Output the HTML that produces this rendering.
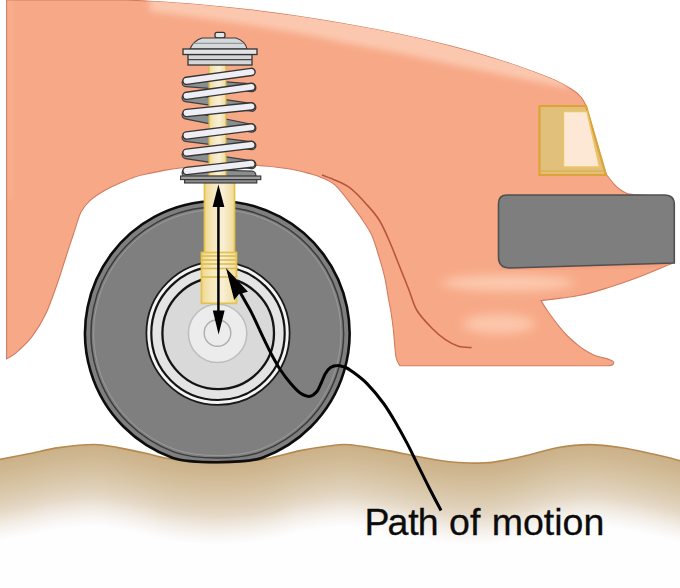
<!DOCTYPE html>
<html><head><meta charset="utf-8">
<style>
html,body{margin:0;padding:0;background:#fff;overflow:hidden;}
svg{display:block;}
text{font-family:"Liberation Sans",sans-serif;}
</style></head>
<body>
<svg width="680" height="588" viewBox="0 0 680 588">
<defs>
  <linearGradient id="rod" x1="0" y1="0" x2="1" y2="0">
    <stop offset="0" stop-color="#efd990"/>
    <stop offset="0.3" stop-color="#f5e8c0"/>
    <stop offset="0.6" stop-color="#f8efd6"/>
    <stop offset="1" stop-color="#f0dc98"/>
  </linearGradient>
  <filter id="bl4" x="-20%" y="-50%" width="140%" height="200%"><feGaussianBlur stdDeviation="4"/></filter>
  <filter id="bl5" x="-30%" y="-80%" width="160%" height="260%"><feGaussianBlur stdDeviation="5"/></filter>
  <filter id="bl3" x="-20%" y="-50%" width="140%" height="200%"><feGaussianBlur stdDeviation="3"/></filter>
  <filter id="bl2" x="-20%" y="-50%" width="140%" height="200%"><feGaussianBlur stdDeviation="2"/></filter>
  <clipPath id="bodyclip"><path id="bodyp" d="M6.6,0 L125,0 C129.2,0.4 137.5,0.5 150.0,1.2 C162.5,1.9 183.3,3.2 200.0,4.7 C216.7,6.2 233.3,7.9 250.0,9.9 C266.7,11.9 283.3,14.1 300.0,16.6 C316.7,19.1 333.3,21.8 350.0,24.7 C366.7,27.6 383.3,30.8 400.0,34.3 C416.7,37.8 433.3,41.6 450.0,45.9 C466.7,50.2 486.7,56.1 500.0,60.2 C513.3,64.3 520.8,67.1 530.0,70.4 C539.2,73.7 548.0,77.0 555.0,80.2 C562.0,83.4 567.7,86.7 572.0,89.5 C576.3,92.3 578.7,94.3 581.0,97.0 C583.3,99.7 585.2,104.1 586.0,105.5 C587.1,109.2 590.3,120.4 592.5,128.0 C594.7,135.6 596.8,143.3 599.0,151.0 C601.2,158.7 604.8,170.2 606.0,174.0 C607.3,175.6 611.5,181.2 613.8,183.8 C616.1,186.4 617.8,187.9 620.0,189.5 C622.2,191.1 624.8,192.7 627.0,193.5 C629.2,194.3 632.0,194.3 633.0,194.5 L660,196 L668,205 L673,263 C667.1,265.4 648.2,273.5 637.6,277.5 C627.0,281.5 619.2,284.2 609.4,287.2 C599.6,290.2 590.2,293.3 578.8,295.5 C567.4,297.7 547.3,299.8 541.0,300.6 C542.3,302.8 545.9,308.7 549.0,313.0 C552.1,317.3 556.2,322.9 559.4,326.8 C562.6,330.7 565.1,333.6 568.0,336.5 C570.9,339.4 574.2,342.1 577.0,344.4 C579.8,346.7 582.3,348.6 585.0,350.3 C587.7,352.0 590.7,353.6 593.2,354.7 C595.7,355.8 597.8,356.4 600.0,357.0 C602.2,357.6 604.7,358.1 606.5,358.6 C608.3,359.1 610.2,359.9 611.0,360.2 Q614.5,361.5 613.5,363.8 Q612,365.8 606,365.8 L400,365.8 C399.3,364.5 397.1,362.8 396.0,357.0 C394.9,351.2 394.3,338.5 393.5,331.0 C392.7,323.5 391.8,317.2 391.0,312.0 C390.2,306.8 389.7,305.6 388.7,300.0 C387.7,294.4 386.4,285.1 384.9,278.2 C383.4,271.2 381.7,265.4 379.5,258.3 C377.3,251.2 374.6,241.6 371.8,235.3 C369.0,229.0 366.4,225.8 362.9,220.5 C359.4,215.2 355.2,209.6 350.6,203.7 C346.0,197.8 340.4,189.8 335.3,185.3 C330.2,180.8 324.4,178.9 320.0,176.9 C315.6,174.9 313.3,174.6 309.0,173.4 C304.7,172.2 299.0,170.7 294.0,169.7 C289.0,168.7 283.8,168.1 279.0,167.5 C274.2,166.9 269.8,166.4 265.0,166.0 C260.2,165.6 255.8,165.2 250.0,165.0 C244.2,164.8 236.7,164.9 230.0,165.0 C223.3,165.1 216.3,165.2 210.0,165.5 C203.7,165.8 197.3,166.4 192.0,166.8 C186.7,167.2 182.7,167.6 178.0,168.2 C173.3,168.8 168.8,169.5 164.0,170.4 C159.2,171.3 153.9,172.3 149.0,173.4 C144.1,174.5 139.5,175.4 134.7,177.0 C129.9,178.6 125.0,180.8 120.0,183.0 C115.0,185.2 110.0,187.4 105.0,190.3 C100.0,193.2 94.0,197.0 90.0,200.6 C86.0,204.2 83.7,206.6 81.0,212.0 C78.3,217.4 76.6,224.7 73.8,233.0 C71.0,241.3 66.9,253.9 64.3,262.0 C61.7,270.1 61.1,272.9 58.0,281.5 C54.9,290.1 50.2,304.4 45.9,313.6 C41.6,322.8 37.1,330.0 32.0,336.6 C26.9,343.2 19.5,349.7 15.3,353.4 C11.1,357.1 8.1,357.8 6.6,358.7 Z"/></clipPath>
  </defs>

<!-- ground -->
<g>
<path d="M0.0,459.4 C5.0,458.4 20.2,455.5 30.0,453.5 C39.8,451.5 48.3,449.1 59.0,447.6 C69.7,446.1 84.2,444.5 94.0,444.5 C103.8,444.5 109.2,446.1 118.0,447.6 C126.8,449.1 139.2,451.8 147.0,453.5 C154.8,455.2 157.8,456.7 165.0,458.0 C172.2,459.3 181.2,460.7 190.0,461.5 C198.8,462.3 208.8,463.0 218.0,463.0 C227.2,463.0 236.3,462.3 245.0,461.5 C253.7,460.7 260.8,459.8 270.0,458.0 C279.2,456.2 290.2,452.6 300.0,450.6 C309.8,448.6 320.7,447.0 329.0,446.0 C337.3,445.0 340.2,443.9 350.0,444.7 C359.8,445.5 376.8,448.6 388.0,450.6 C399.2,452.6 407.2,454.7 417.0,456.5 C426.8,458.3 438.2,460.4 447.0,461.5 C455.8,462.6 462.5,462.9 470.0,463.0 C477.5,463.1 482.8,463.6 492.0,462.4 C501.2,461.2 514.2,458.3 525.0,455.9 C535.8,453.5 546.3,449.7 557.0,447.8 C567.7,445.9 578.2,444.6 589.0,444.6 C599.8,444.6 611.2,446.2 622.0,447.8 C632.8,449.4 644.3,452.2 654.0,454.3 C663.7,456.4 675.7,459.6 680.0,460.7 L680,700 L0,700 Z" fill="#cbb189"/>
<path transform="translate(0,1.5)" d="M0.0,459.4 C5.0,458.4 20.2,455.5 30.0,453.5 C39.8,451.5 48.3,449.1 59.0,447.6 C69.7,446.1 84.2,444.5 94.0,444.5 C103.8,444.5 109.2,446.1 118.0,447.6 C126.8,449.1 139.2,451.8 147.0,453.5 C154.8,455.2 157.8,456.7 165.0,458.0 C172.2,459.3 181.2,460.7 190.0,461.5 C198.8,462.3 208.8,463.0 218.0,463.0 C227.2,463.0 236.3,462.3 245.0,461.5 C253.7,460.7 260.8,459.8 270.0,458.0 C279.2,456.2 290.2,452.6 300.0,450.6 C309.8,448.6 320.7,447.0 329.0,446.0 C337.3,445.0 340.2,443.9 350.0,444.7 C359.8,445.5 376.8,448.6 388.0,450.6 C399.2,452.6 407.2,454.7 417.0,456.5 C426.8,458.3 438.2,460.4 447.0,461.5 C455.8,462.6 462.5,462.9 470.0,463.0 C477.5,463.1 482.8,463.6 492.0,462.4 C501.2,461.2 514.2,458.3 525.0,455.9 C535.8,453.5 546.3,449.7 557.0,447.8 C567.7,445.9 578.2,444.6 589.0,444.6 C599.8,444.6 611.2,446.2 622.0,447.8 C632.8,449.4 644.3,452.2 654.0,454.3 C663.7,456.4 675.7,459.6 680.0,460.7 L680,700 L0,700 Z" fill="#ccb28a"/>
<path transform="translate(0,3)" d="M0.0,459.4 C5.0,458.4 20.2,455.5 30.0,453.5 C39.8,451.5 48.3,449.1 59.0,447.6 C69.7,446.1 84.2,444.5 94.0,444.5 C103.8,444.5 109.2,446.1 118.0,447.6 C126.8,449.1 139.2,451.8 147.0,453.5 C154.8,455.2 157.8,456.7 165.0,458.0 C172.2,459.3 181.2,460.7 190.0,461.5 C198.8,462.3 208.8,463.0 218.0,463.0 C227.2,463.0 236.3,462.3 245.0,461.5 C253.7,460.7 260.8,459.8 270.0,458.0 C279.2,456.2 290.2,452.6 300.0,450.6 C309.8,448.6 320.7,447.0 329.0,446.0 C337.3,445.0 340.2,443.9 350.0,444.7 C359.8,445.5 376.8,448.6 388.0,450.6 C399.2,452.6 407.2,454.7 417.0,456.5 C426.8,458.3 438.2,460.4 447.0,461.5 C455.8,462.6 462.5,462.9 470.0,463.0 C477.5,463.1 482.8,463.6 492.0,462.4 C501.2,461.2 514.2,458.3 525.0,455.9 C535.8,453.5 546.3,449.7 557.0,447.8 C567.7,445.9 578.2,444.6 589.0,444.6 C599.8,444.6 611.2,446.2 622.0,447.8 C632.8,449.4 644.3,452.2 654.0,454.3 C663.7,456.4 675.7,459.6 680.0,460.7 L680,700 L0,700 Z" fill="#ccb38b"/>
<path transform="translate(0,4.5)" d="M0.0,459.4 C5.0,458.4 20.2,455.5 30.0,453.5 C39.8,451.5 48.3,449.1 59.0,447.6 C69.7,446.1 84.2,444.5 94.0,444.5 C103.8,444.5 109.2,446.1 118.0,447.6 C126.8,449.1 139.2,451.8 147.0,453.5 C154.8,455.2 157.8,456.7 165.0,458.0 C172.2,459.3 181.2,460.7 190.0,461.5 C198.8,462.3 208.8,463.0 218.0,463.0 C227.2,463.0 236.3,462.3 245.0,461.5 C253.7,460.7 260.8,459.8 270.0,458.0 C279.2,456.2 290.2,452.6 300.0,450.6 C309.8,448.6 320.7,447.0 329.0,446.0 C337.3,445.0 340.2,443.9 350.0,444.7 C359.8,445.5 376.8,448.6 388.0,450.6 C399.2,452.6 407.2,454.7 417.0,456.5 C426.8,458.3 438.2,460.4 447.0,461.5 C455.8,462.6 462.5,462.9 470.0,463.0 C477.5,463.1 482.8,463.6 492.0,462.4 C501.2,461.2 514.2,458.3 525.0,455.9 C535.8,453.5 546.3,449.7 557.0,447.8 C567.7,445.9 578.2,444.6 589.0,444.6 C599.8,444.6 611.2,446.2 622.0,447.8 C632.8,449.4 644.3,452.2 654.0,454.3 C663.7,456.4 675.7,459.6 680.0,460.7 L680,700 L0,700 Z" fill="#cdb48d"/>
<path transform="translate(0,6)" d="M0.0,459.4 C5.0,458.4 20.2,455.5 30.0,453.5 C39.8,451.5 48.3,449.1 59.0,447.6 C69.7,446.1 84.2,444.5 94.0,444.5 C103.8,444.5 109.2,446.1 118.0,447.6 C126.8,449.1 139.2,451.8 147.0,453.5 C154.8,455.2 157.8,456.7 165.0,458.0 C172.2,459.3 181.2,460.7 190.0,461.5 C198.8,462.3 208.8,463.0 218.0,463.0 C227.2,463.0 236.3,462.3 245.0,461.5 C253.7,460.7 260.8,459.8 270.0,458.0 C279.2,456.2 290.2,452.6 300.0,450.6 C309.8,448.6 320.7,447.0 329.0,446.0 C337.3,445.0 340.2,443.9 350.0,444.7 C359.8,445.5 376.8,448.6 388.0,450.6 C399.2,452.6 407.2,454.7 417.0,456.5 C426.8,458.3 438.2,460.4 447.0,461.5 C455.8,462.6 462.5,462.9 470.0,463.0 C477.5,463.1 482.8,463.6 492.0,462.4 C501.2,461.2 514.2,458.3 525.0,455.9 C535.8,453.5 546.3,449.7 557.0,447.8 C567.7,445.9 578.2,444.6 589.0,444.6 C599.8,444.6 611.2,446.2 622.0,447.8 C632.8,449.4 644.3,452.2 654.0,454.3 C663.7,456.4 675.7,459.6 680.0,460.7 L680,700 L0,700 Z" fill="#cdb58e"/>
<path transform="translate(0,7.5)" d="M0.0,459.4 C5.0,458.4 20.2,455.5 30.0,453.5 C39.8,451.5 48.3,449.1 59.0,447.6 C69.7,446.1 84.2,444.5 94.0,444.5 C103.8,444.5 109.2,446.1 118.0,447.6 C126.8,449.1 139.2,451.8 147.0,453.5 C154.8,455.2 157.8,456.7 165.0,458.0 C172.2,459.3 181.2,460.7 190.0,461.5 C198.8,462.3 208.8,463.0 218.0,463.0 C227.2,463.0 236.3,462.3 245.0,461.5 C253.7,460.7 260.8,459.8 270.0,458.0 C279.2,456.2 290.2,452.6 300.0,450.6 C309.8,448.6 320.7,447.0 329.0,446.0 C337.3,445.0 340.2,443.9 350.0,444.7 C359.8,445.5 376.8,448.6 388.0,450.6 C399.2,452.6 407.2,454.7 417.0,456.5 C426.8,458.3 438.2,460.4 447.0,461.5 C455.8,462.6 462.5,462.9 470.0,463.0 C477.5,463.1 482.8,463.6 492.0,462.4 C501.2,461.2 514.2,458.3 525.0,455.9 C535.8,453.5 546.3,449.7 557.0,447.8 C567.7,445.9 578.2,444.6 589.0,444.6 C599.8,444.6 611.2,446.2 622.0,447.8 C632.8,449.4 644.3,452.2 654.0,454.3 C663.7,456.4 675.7,459.6 680.0,460.7 L680,700 L0,700 Z" fill="#ceb68f"/>
<path transform="translate(0,9)" d="M0.0,459.4 C5.0,458.4 20.2,455.5 30.0,453.5 C39.8,451.5 48.3,449.1 59.0,447.6 C69.7,446.1 84.2,444.5 94.0,444.5 C103.8,444.5 109.2,446.1 118.0,447.6 C126.8,449.1 139.2,451.8 147.0,453.5 C154.8,455.2 157.8,456.7 165.0,458.0 C172.2,459.3 181.2,460.7 190.0,461.5 C198.8,462.3 208.8,463.0 218.0,463.0 C227.2,463.0 236.3,462.3 245.0,461.5 C253.7,460.7 260.8,459.8 270.0,458.0 C279.2,456.2 290.2,452.6 300.0,450.6 C309.8,448.6 320.7,447.0 329.0,446.0 C337.3,445.0 340.2,443.9 350.0,444.7 C359.8,445.5 376.8,448.6 388.0,450.6 C399.2,452.6 407.2,454.7 417.0,456.5 C426.8,458.3 438.2,460.4 447.0,461.5 C455.8,462.6 462.5,462.9 470.0,463.0 C477.5,463.1 482.8,463.6 492.0,462.4 C501.2,461.2 514.2,458.3 525.0,455.9 C535.8,453.5 546.3,449.7 557.0,447.8 C567.7,445.9 578.2,444.6 589.0,444.6 C599.8,444.6 611.2,446.2 622.0,447.8 C632.8,449.4 644.3,452.2 654.0,454.3 C663.7,456.4 675.7,459.6 680.0,460.7 L680,700 L0,700 Z" fill="#cfb690"/>
<path transform="translate(0,10.5)" d="M0.0,459.4 C5.0,458.4 20.2,455.5 30.0,453.5 C39.8,451.5 48.3,449.1 59.0,447.6 C69.7,446.1 84.2,444.5 94.0,444.5 C103.8,444.5 109.2,446.1 118.0,447.6 C126.8,449.1 139.2,451.8 147.0,453.5 C154.8,455.2 157.8,456.7 165.0,458.0 C172.2,459.3 181.2,460.7 190.0,461.5 C198.8,462.3 208.8,463.0 218.0,463.0 C227.2,463.0 236.3,462.3 245.0,461.5 C253.7,460.7 260.8,459.8 270.0,458.0 C279.2,456.2 290.2,452.6 300.0,450.6 C309.8,448.6 320.7,447.0 329.0,446.0 C337.3,445.0 340.2,443.9 350.0,444.7 C359.8,445.5 376.8,448.6 388.0,450.6 C399.2,452.6 407.2,454.7 417.0,456.5 C426.8,458.3 438.2,460.4 447.0,461.5 C455.8,462.6 462.5,462.9 470.0,463.0 C477.5,463.1 482.8,463.6 492.0,462.4 C501.2,461.2 514.2,458.3 525.0,455.9 C535.8,453.5 546.3,449.7 557.0,447.8 C567.7,445.9 578.2,444.6 589.0,444.6 C599.8,444.6 611.2,446.2 622.0,447.8 C632.8,449.4 644.3,452.2 654.0,454.3 C663.7,456.4 675.7,459.6 680.0,460.7 L680,700 L0,700 Z" fill="#cfb792"/>
<path transform="translate(0,12)" d="M0.0,459.4 C5.0,458.4 20.2,455.5 30.0,453.5 C39.8,451.5 48.3,449.1 59.0,447.6 C69.7,446.1 84.2,444.5 94.0,444.5 C103.8,444.5 109.2,446.1 118.0,447.6 C126.8,449.1 139.2,451.8 147.0,453.5 C154.8,455.2 157.8,456.7 165.0,458.0 C172.2,459.3 181.2,460.7 190.0,461.5 C198.8,462.3 208.8,463.0 218.0,463.0 C227.2,463.0 236.3,462.3 245.0,461.5 C253.7,460.7 260.8,459.8 270.0,458.0 C279.2,456.2 290.2,452.6 300.0,450.6 C309.8,448.6 320.7,447.0 329.0,446.0 C337.3,445.0 340.2,443.9 350.0,444.7 C359.8,445.5 376.8,448.6 388.0,450.6 C399.2,452.6 407.2,454.7 417.0,456.5 C426.8,458.3 438.2,460.4 447.0,461.5 C455.8,462.6 462.5,462.9 470.0,463.0 C477.5,463.1 482.8,463.6 492.0,462.4 C501.2,461.2 514.2,458.3 525.0,455.9 C535.8,453.5 546.3,449.7 557.0,447.8 C567.7,445.9 578.2,444.6 589.0,444.6 C599.8,444.6 611.2,446.2 622.0,447.8 C632.8,449.4 644.3,452.2 654.0,454.3 C663.7,456.4 675.7,459.6 680.0,460.7 L680,700 L0,700 Z" fill="#d0b893"/>
<path transform="translate(0,13.5)" d="M0.0,459.4 C5.0,458.4 20.2,455.5 30.0,453.5 C39.8,451.5 48.3,449.1 59.0,447.6 C69.7,446.1 84.2,444.5 94.0,444.5 C103.8,444.5 109.2,446.1 118.0,447.6 C126.8,449.1 139.2,451.8 147.0,453.5 C154.8,455.2 157.8,456.7 165.0,458.0 C172.2,459.3 181.2,460.7 190.0,461.5 C198.8,462.3 208.8,463.0 218.0,463.0 C227.2,463.0 236.3,462.3 245.0,461.5 C253.7,460.7 260.8,459.8 270.0,458.0 C279.2,456.2 290.2,452.6 300.0,450.6 C309.8,448.6 320.7,447.0 329.0,446.0 C337.3,445.0 340.2,443.9 350.0,444.7 C359.8,445.5 376.8,448.6 388.0,450.6 C399.2,452.6 407.2,454.7 417.0,456.5 C426.8,458.3 438.2,460.4 447.0,461.5 C455.8,462.6 462.5,462.9 470.0,463.0 C477.5,463.1 482.8,463.6 492.0,462.4 C501.2,461.2 514.2,458.3 525.0,455.9 C535.8,453.5 546.3,449.7 557.0,447.8 C567.7,445.9 578.2,444.6 589.0,444.6 C599.8,444.6 611.2,446.2 622.0,447.8 C632.8,449.4 644.3,452.2 654.0,454.3 C663.7,456.4 675.7,459.6 680.0,460.7 L680,700 L0,700 Z" fill="#d1ba95"/>
<path transform="translate(0,15)" d="M0.0,459.4 C5.0,458.4 20.2,455.5 30.0,453.5 C39.8,451.5 48.3,449.1 59.0,447.6 C69.7,446.1 84.2,444.5 94.0,444.5 C103.8,444.5 109.2,446.1 118.0,447.6 C126.8,449.1 139.2,451.8 147.0,453.5 C154.8,455.2 157.8,456.7 165.0,458.0 C172.2,459.3 181.2,460.7 190.0,461.5 C198.8,462.3 208.8,463.0 218.0,463.0 C227.2,463.0 236.3,462.3 245.0,461.5 C253.7,460.7 260.8,459.8 270.0,458.0 C279.2,456.2 290.2,452.6 300.0,450.6 C309.8,448.6 320.7,447.0 329.0,446.0 C337.3,445.0 340.2,443.9 350.0,444.7 C359.8,445.5 376.8,448.6 388.0,450.6 C399.2,452.6 407.2,454.7 417.0,456.5 C426.8,458.3 438.2,460.4 447.0,461.5 C455.8,462.6 462.5,462.9 470.0,463.0 C477.5,463.1 482.8,463.6 492.0,462.4 C501.2,461.2 514.2,458.3 525.0,455.9 C535.8,453.5 546.3,449.7 557.0,447.8 C567.7,445.9 578.2,444.6 589.0,444.6 C599.8,444.6 611.2,446.2 622.0,447.8 C632.8,449.4 644.3,452.2 654.0,454.3 C663.7,456.4 675.7,459.6 680.0,460.7 L680,700 L0,700 Z" fill="#d1bb96"/>
<path transform="translate(0,16.5)" d="M0.0,459.4 C5.0,458.4 20.2,455.5 30.0,453.5 C39.8,451.5 48.3,449.1 59.0,447.6 C69.7,446.1 84.2,444.5 94.0,444.5 C103.8,444.5 109.2,446.1 118.0,447.6 C126.8,449.1 139.2,451.8 147.0,453.5 C154.8,455.2 157.8,456.7 165.0,458.0 C172.2,459.3 181.2,460.7 190.0,461.5 C198.8,462.3 208.8,463.0 218.0,463.0 C227.2,463.0 236.3,462.3 245.0,461.5 C253.7,460.7 260.8,459.8 270.0,458.0 C279.2,456.2 290.2,452.6 300.0,450.6 C309.8,448.6 320.7,447.0 329.0,446.0 C337.3,445.0 340.2,443.9 350.0,444.7 C359.8,445.5 376.8,448.6 388.0,450.6 C399.2,452.6 407.2,454.7 417.0,456.5 C426.8,458.3 438.2,460.4 447.0,461.5 C455.8,462.6 462.5,462.9 470.0,463.0 C477.5,463.1 482.8,463.6 492.0,462.4 C501.2,461.2 514.2,458.3 525.0,455.9 C535.8,453.5 546.3,449.7 557.0,447.8 C567.7,445.9 578.2,444.6 589.0,444.6 C599.8,444.6 611.2,446.2 622.0,447.8 C632.8,449.4 644.3,452.2 654.0,454.3 C663.7,456.4 675.7,459.6 680.0,460.7 L680,700 L0,700 Z" fill="#d2bc98"/>
<path transform="translate(0,18)" d="M0.0,459.4 C5.0,458.4 20.2,455.5 30.0,453.5 C39.8,451.5 48.3,449.1 59.0,447.6 C69.7,446.1 84.2,444.5 94.0,444.5 C103.8,444.5 109.2,446.1 118.0,447.6 C126.8,449.1 139.2,451.8 147.0,453.5 C154.8,455.2 157.8,456.7 165.0,458.0 C172.2,459.3 181.2,460.7 190.0,461.5 C198.8,462.3 208.8,463.0 218.0,463.0 C227.2,463.0 236.3,462.3 245.0,461.5 C253.7,460.7 260.8,459.8 270.0,458.0 C279.2,456.2 290.2,452.6 300.0,450.6 C309.8,448.6 320.7,447.0 329.0,446.0 C337.3,445.0 340.2,443.9 350.0,444.7 C359.8,445.5 376.8,448.6 388.0,450.6 C399.2,452.6 407.2,454.7 417.0,456.5 C426.8,458.3 438.2,460.4 447.0,461.5 C455.8,462.6 462.5,462.9 470.0,463.0 C477.5,463.1 482.8,463.6 492.0,462.4 C501.2,461.2 514.2,458.3 525.0,455.9 C535.8,453.5 546.3,449.7 557.0,447.8 C567.7,445.9 578.2,444.6 589.0,444.6 C599.8,444.6 611.2,446.2 622.0,447.8 C632.8,449.4 644.3,452.2 654.0,454.3 C663.7,456.4 675.7,459.6 680.0,460.7 L680,700 L0,700 Z" fill="#d3bd9a"/>
<path transform="translate(0,19.5)" d="M0.0,459.4 C5.0,458.4 20.2,455.5 30.0,453.5 C39.8,451.5 48.3,449.1 59.0,447.6 C69.7,446.1 84.2,444.5 94.0,444.5 C103.8,444.5 109.2,446.1 118.0,447.6 C126.8,449.1 139.2,451.8 147.0,453.5 C154.8,455.2 157.8,456.7 165.0,458.0 C172.2,459.3 181.2,460.7 190.0,461.5 C198.8,462.3 208.8,463.0 218.0,463.0 C227.2,463.0 236.3,462.3 245.0,461.5 C253.7,460.7 260.8,459.8 270.0,458.0 C279.2,456.2 290.2,452.6 300.0,450.6 C309.8,448.6 320.7,447.0 329.0,446.0 C337.3,445.0 340.2,443.9 350.0,444.7 C359.8,445.5 376.8,448.6 388.0,450.6 C399.2,452.6 407.2,454.7 417.0,456.5 C426.8,458.3 438.2,460.4 447.0,461.5 C455.8,462.6 462.5,462.9 470.0,463.0 C477.5,463.1 482.8,463.6 492.0,462.4 C501.2,461.2 514.2,458.3 525.0,455.9 C535.8,453.5 546.3,449.7 557.0,447.8 C567.7,445.9 578.2,444.6 589.0,444.6 C599.8,444.6 611.2,446.2 622.0,447.8 C632.8,449.4 644.3,452.2 654.0,454.3 C663.7,456.4 675.7,459.6 680.0,460.7 L680,700 L0,700 Z" fill="#d3be9b"/>
<path transform="translate(0,21)" d="M0.0,459.4 C5.0,458.4 20.2,455.5 30.0,453.5 C39.8,451.5 48.3,449.1 59.0,447.6 C69.7,446.1 84.2,444.5 94.0,444.5 C103.8,444.5 109.2,446.1 118.0,447.6 C126.8,449.1 139.2,451.8 147.0,453.5 C154.8,455.2 157.8,456.7 165.0,458.0 C172.2,459.3 181.2,460.7 190.0,461.5 C198.8,462.3 208.8,463.0 218.0,463.0 C227.2,463.0 236.3,462.3 245.0,461.5 C253.7,460.7 260.8,459.8 270.0,458.0 C279.2,456.2 290.2,452.6 300.0,450.6 C309.8,448.6 320.7,447.0 329.0,446.0 C337.3,445.0 340.2,443.9 350.0,444.7 C359.8,445.5 376.8,448.6 388.0,450.6 C399.2,452.6 407.2,454.7 417.0,456.5 C426.8,458.3 438.2,460.4 447.0,461.5 C455.8,462.6 462.5,462.9 470.0,463.0 C477.5,463.1 482.8,463.6 492.0,462.4 C501.2,461.2 514.2,458.3 525.0,455.9 C535.8,453.5 546.3,449.7 557.0,447.8 C567.7,445.9 578.2,444.6 589.0,444.6 C599.8,444.6 611.2,446.2 622.0,447.8 C632.8,449.4 644.3,452.2 654.0,454.3 C663.7,456.4 675.7,459.6 680.0,460.7 L680,700 L0,700 Z" fill="#d4bf9d"/>
<path transform="translate(0,22.5)" d="M0.0,459.4 C5.0,458.4 20.2,455.5 30.0,453.5 C39.8,451.5 48.3,449.1 59.0,447.6 C69.7,446.1 84.2,444.5 94.0,444.5 C103.8,444.5 109.2,446.1 118.0,447.6 C126.8,449.1 139.2,451.8 147.0,453.5 C154.8,455.2 157.8,456.7 165.0,458.0 C172.2,459.3 181.2,460.7 190.0,461.5 C198.8,462.3 208.8,463.0 218.0,463.0 C227.2,463.0 236.3,462.3 245.0,461.5 C253.7,460.7 260.8,459.8 270.0,458.0 C279.2,456.2 290.2,452.6 300.0,450.6 C309.8,448.6 320.7,447.0 329.0,446.0 C337.3,445.0 340.2,443.9 350.0,444.7 C359.8,445.5 376.8,448.6 388.0,450.6 C399.2,452.6 407.2,454.7 417.0,456.5 C426.8,458.3 438.2,460.4 447.0,461.5 C455.8,462.6 462.5,462.9 470.0,463.0 C477.5,463.1 482.8,463.6 492.0,462.4 C501.2,461.2 514.2,458.3 525.0,455.9 C535.8,453.5 546.3,449.7 557.0,447.8 C567.7,445.9 578.2,444.6 589.0,444.6 C599.8,444.6 611.2,446.2 622.0,447.8 C632.8,449.4 644.3,452.2 654.0,454.3 C663.7,456.4 675.7,459.6 680.0,460.7 L680,700 L0,700 Z" fill="#d5c09e"/>
<path transform="translate(0,24)" d="M0.0,459.4 C5.0,458.4 20.2,455.5 30.0,453.5 C39.8,451.5 48.3,449.1 59.0,447.6 C69.7,446.1 84.2,444.5 94.0,444.5 C103.8,444.5 109.2,446.1 118.0,447.6 C126.8,449.1 139.2,451.8 147.0,453.5 C154.8,455.2 157.8,456.7 165.0,458.0 C172.2,459.3 181.2,460.7 190.0,461.5 C198.8,462.3 208.8,463.0 218.0,463.0 C227.2,463.0 236.3,462.3 245.0,461.5 C253.7,460.7 260.8,459.8 270.0,458.0 C279.2,456.2 290.2,452.6 300.0,450.6 C309.8,448.6 320.7,447.0 329.0,446.0 C337.3,445.0 340.2,443.9 350.0,444.7 C359.8,445.5 376.8,448.6 388.0,450.6 C399.2,452.6 407.2,454.7 417.0,456.5 C426.8,458.3 438.2,460.4 447.0,461.5 C455.8,462.6 462.5,462.9 470.0,463.0 C477.5,463.1 482.8,463.6 492.0,462.4 C501.2,461.2 514.2,458.3 525.0,455.9 C535.8,453.5 546.3,449.7 557.0,447.8 C567.7,445.9 578.2,444.6 589.0,444.6 C599.8,444.6 611.2,446.2 622.0,447.8 C632.8,449.4 644.3,452.2 654.0,454.3 C663.7,456.4 675.7,459.6 680.0,460.7 L680,700 L0,700 Z" fill="#d6c1a0"/>
<path transform="translate(0,25.5)" d="M0.0,459.4 C5.0,458.4 20.2,455.5 30.0,453.5 C39.8,451.5 48.3,449.1 59.0,447.6 C69.7,446.1 84.2,444.5 94.0,444.5 C103.8,444.5 109.2,446.1 118.0,447.6 C126.8,449.1 139.2,451.8 147.0,453.5 C154.8,455.2 157.8,456.7 165.0,458.0 C172.2,459.3 181.2,460.7 190.0,461.5 C198.8,462.3 208.8,463.0 218.0,463.0 C227.2,463.0 236.3,462.3 245.0,461.5 C253.7,460.7 260.8,459.8 270.0,458.0 C279.2,456.2 290.2,452.6 300.0,450.6 C309.8,448.6 320.7,447.0 329.0,446.0 C337.3,445.0 340.2,443.9 350.0,444.7 C359.8,445.5 376.8,448.6 388.0,450.6 C399.2,452.6 407.2,454.7 417.0,456.5 C426.8,458.3 438.2,460.4 447.0,461.5 C455.8,462.6 462.5,462.9 470.0,463.0 C477.5,463.1 482.8,463.6 492.0,462.4 C501.2,461.2 514.2,458.3 525.0,455.9 C535.8,453.5 546.3,449.7 557.0,447.8 C567.7,445.9 578.2,444.6 589.0,444.6 C599.8,444.6 611.2,446.2 622.0,447.8 C632.8,449.4 644.3,452.2 654.0,454.3 C663.7,456.4 675.7,459.6 680.0,460.7 L680,700 L0,700 Z" fill="#d6c2a2"/>
<path transform="translate(0,27)" d="M0.0,459.4 C5.0,458.4 20.2,455.5 30.0,453.5 C39.8,451.5 48.3,449.1 59.0,447.6 C69.7,446.1 84.2,444.5 94.0,444.5 C103.8,444.5 109.2,446.1 118.0,447.6 C126.8,449.1 139.2,451.8 147.0,453.5 C154.8,455.2 157.8,456.7 165.0,458.0 C172.2,459.3 181.2,460.7 190.0,461.5 C198.8,462.3 208.8,463.0 218.0,463.0 C227.2,463.0 236.3,462.3 245.0,461.5 C253.7,460.7 260.8,459.8 270.0,458.0 C279.2,456.2 290.2,452.6 300.0,450.6 C309.8,448.6 320.7,447.0 329.0,446.0 C337.3,445.0 340.2,443.9 350.0,444.7 C359.8,445.5 376.8,448.6 388.0,450.6 C399.2,452.6 407.2,454.7 417.0,456.5 C426.8,458.3 438.2,460.4 447.0,461.5 C455.8,462.6 462.5,462.9 470.0,463.0 C477.5,463.1 482.8,463.6 492.0,462.4 C501.2,461.2 514.2,458.3 525.0,455.9 C535.8,453.5 546.3,449.7 557.0,447.8 C567.7,445.9 578.2,444.6 589.0,444.6 C599.8,444.6 611.2,446.2 622.0,447.8 C632.8,449.4 644.3,452.2 654.0,454.3 C663.7,456.4 675.7,459.6 680.0,460.7 L680,700 L0,700 Z" fill="#d7c4a4"/>
<path transform="translate(0,28.5)" d="M0.0,459.4 C5.0,458.4 20.2,455.5 30.0,453.5 C39.8,451.5 48.3,449.1 59.0,447.6 C69.7,446.1 84.2,444.5 94.0,444.5 C103.8,444.5 109.2,446.1 118.0,447.6 C126.8,449.1 139.2,451.8 147.0,453.5 C154.8,455.2 157.8,456.7 165.0,458.0 C172.2,459.3 181.2,460.7 190.0,461.5 C198.8,462.3 208.8,463.0 218.0,463.0 C227.2,463.0 236.3,462.3 245.0,461.5 C253.7,460.7 260.8,459.8 270.0,458.0 C279.2,456.2 290.2,452.6 300.0,450.6 C309.8,448.6 320.7,447.0 329.0,446.0 C337.3,445.0 340.2,443.9 350.0,444.7 C359.8,445.5 376.8,448.6 388.0,450.6 C399.2,452.6 407.2,454.7 417.0,456.5 C426.8,458.3 438.2,460.4 447.0,461.5 C455.8,462.6 462.5,462.9 470.0,463.0 C477.5,463.1 482.8,463.6 492.0,462.4 C501.2,461.2 514.2,458.3 525.0,455.9 C535.8,453.5 546.3,449.7 557.0,447.8 C567.7,445.9 578.2,444.6 589.0,444.6 C599.8,444.6 611.2,446.2 622.0,447.8 C632.8,449.4 644.3,452.2 654.0,454.3 C663.7,456.4 675.7,459.6 680.0,460.7 L680,700 L0,700 Z" fill="#d8c5a5"/>
<path transform="translate(0,30)" d="M0.0,459.4 C5.0,458.4 20.2,455.5 30.0,453.5 C39.8,451.5 48.3,449.1 59.0,447.6 C69.7,446.1 84.2,444.5 94.0,444.5 C103.8,444.5 109.2,446.1 118.0,447.6 C126.8,449.1 139.2,451.8 147.0,453.5 C154.8,455.2 157.8,456.7 165.0,458.0 C172.2,459.3 181.2,460.7 190.0,461.5 C198.8,462.3 208.8,463.0 218.0,463.0 C227.2,463.0 236.3,462.3 245.0,461.5 C253.7,460.7 260.8,459.8 270.0,458.0 C279.2,456.2 290.2,452.6 300.0,450.6 C309.8,448.6 320.7,447.0 329.0,446.0 C337.3,445.0 340.2,443.9 350.0,444.7 C359.8,445.5 376.8,448.6 388.0,450.6 C399.2,452.6 407.2,454.7 417.0,456.5 C426.8,458.3 438.2,460.4 447.0,461.5 C455.8,462.6 462.5,462.9 470.0,463.0 C477.5,463.1 482.8,463.6 492.0,462.4 C501.2,461.2 514.2,458.3 525.0,455.9 C535.8,453.5 546.3,449.7 557.0,447.8 C567.7,445.9 578.2,444.6 589.0,444.6 C599.8,444.6 611.2,446.2 622.0,447.8 C632.8,449.4 644.3,452.2 654.0,454.3 C663.7,456.4 675.7,459.6 680.0,460.7 L680,700 L0,700 Z" fill="#d8c6a7"/>
<path transform="translate(0,31.5)" d="M0.0,459.4 C5.0,458.4 20.2,455.5 30.0,453.5 C39.8,451.5 48.3,449.1 59.0,447.6 C69.7,446.1 84.2,444.5 94.0,444.5 C103.8,444.5 109.2,446.1 118.0,447.6 C126.8,449.1 139.2,451.8 147.0,453.5 C154.8,455.2 157.8,456.7 165.0,458.0 C172.2,459.3 181.2,460.7 190.0,461.5 C198.8,462.3 208.8,463.0 218.0,463.0 C227.2,463.0 236.3,462.3 245.0,461.5 C253.7,460.7 260.8,459.8 270.0,458.0 C279.2,456.2 290.2,452.6 300.0,450.6 C309.8,448.6 320.7,447.0 329.0,446.0 C337.3,445.0 340.2,443.9 350.0,444.7 C359.8,445.5 376.8,448.6 388.0,450.6 C399.2,452.6 407.2,454.7 417.0,456.5 C426.8,458.3 438.2,460.4 447.0,461.5 C455.8,462.6 462.5,462.9 470.0,463.0 C477.5,463.1 482.8,463.6 492.0,462.4 C501.2,461.2 514.2,458.3 525.0,455.9 C535.8,453.5 546.3,449.7 557.0,447.8 C567.7,445.9 578.2,444.6 589.0,444.6 C599.8,444.6 611.2,446.2 622.0,447.8 C632.8,449.4 644.3,452.2 654.0,454.3 C663.7,456.4 675.7,459.6 680.0,460.7 L680,700 L0,700 Z" fill="#d9c7a9"/>
<path transform="translate(0,33)" d="M0.0,459.4 C5.0,458.4 20.2,455.5 30.0,453.5 C39.8,451.5 48.3,449.1 59.0,447.6 C69.7,446.1 84.2,444.5 94.0,444.5 C103.8,444.5 109.2,446.1 118.0,447.6 C126.8,449.1 139.2,451.8 147.0,453.5 C154.8,455.2 157.8,456.7 165.0,458.0 C172.2,459.3 181.2,460.7 190.0,461.5 C198.8,462.3 208.8,463.0 218.0,463.0 C227.2,463.0 236.3,462.3 245.0,461.5 C253.7,460.7 260.8,459.8 270.0,458.0 C279.2,456.2 290.2,452.6 300.0,450.6 C309.8,448.6 320.7,447.0 329.0,446.0 C337.3,445.0 340.2,443.9 350.0,444.7 C359.8,445.5 376.8,448.6 388.0,450.6 C399.2,452.6 407.2,454.7 417.0,456.5 C426.8,458.3 438.2,460.4 447.0,461.5 C455.8,462.6 462.5,462.9 470.0,463.0 C477.5,463.1 482.8,463.6 492.0,462.4 C501.2,461.2 514.2,458.3 525.0,455.9 C535.8,453.5 546.3,449.7 557.0,447.8 C567.7,445.9 578.2,444.6 589.0,444.6 C599.8,444.6 611.2,446.2 622.0,447.8 C632.8,449.4 644.3,452.2 654.0,454.3 C663.7,456.4 675.7,459.6 680.0,460.7 L680,700 L0,700 Z" fill="#dac8ab"/>
<path transform="translate(0,34.5)" d="M0.0,459.4 C5.0,458.4 20.2,455.5 30.0,453.5 C39.8,451.5 48.3,449.1 59.0,447.6 C69.7,446.1 84.2,444.5 94.0,444.5 C103.8,444.5 109.2,446.1 118.0,447.6 C126.8,449.1 139.2,451.8 147.0,453.5 C154.8,455.2 157.8,456.7 165.0,458.0 C172.2,459.3 181.2,460.7 190.0,461.5 C198.8,462.3 208.8,463.0 218.0,463.0 C227.2,463.0 236.3,462.3 245.0,461.5 C253.7,460.7 260.8,459.8 270.0,458.0 C279.2,456.2 290.2,452.6 300.0,450.6 C309.8,448.6 320.7,447.0 329.0,446.0 C337.3,445.0 340.2,443.9 350.0,444.7 C359.8,445.5 376.8,448.6 388.0,450.6 C399.2,452.6 407.2,454.7 417.0,456.5 C426.8,458.3 438.2,460.4 447.0,461.5 C455.8,462.6 462.5,462.9 470.0,463.0 C477.5,463.1 482.8,463.6 492.0,462.4 C501.2,461.2 514.2,458.3 525.0,455.9 C535.8,453.5 546.3,449.7 557.0,447.8 C567.7,445.9 578.2,444.6 589.0,444.6 C599.8,444.6 611.2,446.2 622.0,447.8 C632.8,449.4 644.3,452.2 654.0,454.3 C663.7,456.4 675.7,459.6 680.0,460.7 L680,700 L0,700 Z" fill="#dacaad"/>
<path transform="translate(0,36)" d="M0.0,459.4 C5.0,458.4 20.2,455.5 30.0,453.5 C39.8,451.5 48.3,449.1 59.0,447.6 C69.7,446.1 84.2,444.5 94.0,444.5 C103.8,444.5 109.2,446.1 118.0,447.6 C126.8,449.1 139.2,451.8 147.0,453.5 C154.8,455.2 157.8,456.7 165.0,458.0 C172.2,459.3 181.2,460.7 190.0,461.5 C198.8,462.3 208.8,463.0 218.0,463.0 C227.2,463.0 236.3,462.3 245.0,461.5 C253.7,460.7 260.8,459.8 270.0,458.0 C279.2,456.2 290.2,452.6 300.0,450.6 C309.8,448.6 320.7,447.0 329.0,446.0 C337.3,445.0 340.2,443.9 350.0,444.7 C359.8,445.5 376.8,448.6 388.0,450.6 C399.2,452.6 407.2,454.7 417.0,456.5 C426.8,458.3 438.2,460.4 447.0,461.5 C455.8,462.6 462.5,462.9 470.0,463.0 C477.5,463.1 482.8,463.6 492.0,462.4 C501.2,461.2 514.2,458.3 525.0,455.9 C535.8,453.5 546.3,449.7 557.0,447.8 C567.7,445.9 578.2,444.6 589.0,444.6 C599.8,444.6 611.2,446.2 622.0,447.8 C632.8,449.4 644.3,452.2 654.0,454.3 C663.7,456.4 675.7,459.6 680.0,460.7 L680,700 L0,700 Z" fill="#dbcbaf"/>
<path transform="translate(0,37.5)" d="M0.0,459.4 C5.0,458.4 20.2,455.5 30.0,453.5 C39.8,451.5 48.3,449.1 59.0,447.6 C69.7,446.1 84.2,444.5 94.0,444.5 C103.8,444.5 109.2,446.1 118.0,447.6 C126.8,449.1 139.2,451.8 147.0,453.5 C154.8,455.2 157.8,456.7 165.0,458.0 C172.2,459.3 181.2,460.7 190.0,461.5 C198.8,462.3 208.8,463.0 218.0,463.0 C227.2,463.0 236.3,462.3 245.0,461.5 C253.7,460.7 260.8,459.8 270.0,458.0 C279.2,456.2 290.2,452.6 300.0,450.6 C309.8,448.6 320.7,447.0 329.0,446.0 C337.3,445.0 340.2,443.9 350.0,444.7 C359.8,445.5 376.8,448.6 388.0,450.6 C399.2,452.6 407.2,454.7 417.0,456.5 C426.8,458.3 438.2,460.4 447.0,461.5 C455.8,462.6 462.5,462.9 470.0,463.0 C477.5,463.1 482.8,463.6 492.0,462.4 C501.2,461.2 514.2,458.3 525.0,455.9 C535.8,453.5 546.3,449.7 557.0,447.8 C567.7,445.9 578.2,444.6 589.0,444.6 C599.8,444.6 611.2,446.2 622.0,447.8 C632.8,449.4 644.3,452.2 654.0,454.3 C663.7,456.4 675.7,459.6 680.0,460.7 L680,700 L0,700 Z" fill="#dcccb1"/>
<path transform="translate(0,39)" d="M0.0,459.4 C5.0,458.4 20.2,455.5 30.0,453.5 C39.8,451.5 48.3,449.1 59.0,447.6 C69.7,446.1 84.2,444.5 94.0,444.5 C103.8,444.5 109.2,446.1 118.0,447.6 C126.8,449.1 139.2,451.8 147.0,453.5 C154.8,455.2 157.8,456.7 165.0,458.0 C172.2,459.3 181.2,460.7 190.0,461.5 C198.8,462.3 208.8,463.0 218.0,463.0 C227.2,463.0 236.3,462.3 245.0,461.5 C253.7,460.7 260.8,459.8 270.0,458.0 C279.2,456.2 290.2,452.6 300.0,450.6 C309.8,448.6 320.7,447.0 329.0,446.0 C337.3,445.0 340.2,443.9 350.0,444.7 C359.8,445.5 376.8,448.6 388.0,450.6 C399.2,452.6 407.2,454.7 417.0,456.5 C426.8,458.3 438.2,460.4 447.0,461.5 C455.8,462.6 462.5,462.9 470.0,463.0 C477.5,463.1 482.8,463.6 492.0,462.4 C501.2,461.2 514.2,458.3 525.0,455.9 C535.8,453.5 546.3,449.7 557.0,447.8 C567.7,445.9 578.2,444.6 589.0,444.6 C599.8,444.6 611.2,446.2 622.0,447.8 C632.8,449.4 644.3,452.2 654.0,454.3 C663.7,456.4 675.7,459.6 680.0,460.7 L680,700 L0,700 Z" fill="#ddcdb3"/>
<path transform="translate(0,40.5)" d="M0.0,459.4 C5.0,458.4 20.2,455.5 30.0,453.5 C39.8,451.5 48.3,449.1 59.0,447.6 C69.7,446.1 84.2,444.5 94.0,444.5 C103.8,444.5 109.2,446.1 118.0,447.6 C126.8,449.1 139.2,451.8 147.0,453.5 C154.8,455.2 157.8,456.7 165.0,458.0 C172.2,459.3 181.2,460.7 190.0,461.5 C198.8,462.3 208.8,463.0 218.0,463.0 C227.2,463.0 236.3,462.3 245.0,461.5 C253.7,460.7 260.8,459.8 270.0,458.0 C279.2,456.2 290.2,452.6 300.0,450.6 C309.8,448.6 320.7,447.0 329.0,446.0 C337.3,445.0 340.2,443.9 350.0,444.7 C359.8,445.5 376.8,448.6 388.0,450.6 C399.2,452.6 407.2,454.7 417.0,456.5 C426.8,458.3 438.2,460.4 447.0,461.5 C455.8,462.6 462.5,462.9 470.0,463.0 C477.5,463.1 482.8,463.6 492.0,462.4 C501.2,461.2 514.2,458.3 525.0,455.9 C535.8,453.5 546.3,449.7 557.0,447.8 C567.7,445.9 578.2,444.6 589.0,444.6 C599.8,444.6 611.2,446.2 622.0,447.8 C632.8,449.4 644.3,452.2 654.0,454.3 C663.7,456.4 675.7,459.6 680.0,460.7 L680,700 L0,700 Z" fill="#ddceb5"/>
<path transform="translate(0,42)" d="M0.0,459.4 C5.0,458.4 20.2,455.5 30.0,453.5 C39.8,451.5 48.3,449.1 59.0,447.6 C69.7,446.1 84.2,444.5 94.0,444.5 C103.8,444.5 109.2,446.1 118.0,447.6 C126.8,449.1 139.2,451.8 147.0,453.5 C154.8,455.2 157.8,456.7 165.0,458.0 C172.2,459.3 181.2,460.7 190.0,461.5 C198.8,462.3 208.8,463.0 218.0,463.0 C227.2,463.0 236.3,462.3 245.0,461.5 C253.7,460.7 260.8,459.8 270.0,458.0 C279.2,456.2 290.2,452.6 300.0,450.6 C309.8,448.6 320.7,447.0 329.0,446.0 C337.3,445.0 340.2,443.9 350.0,444.7 C359.8,445.5 376.8,448.6 388.0,450.6 C399.2,452.6 407.2,454.7 417.0,456.5 C426.8,458.3 438.2,460.4 447.0,461.5 C455.8,462.6 462.5,462.9 470.0,463.0 C477.5,463.1 482.8,463.6 492.0,462.4 C501.2,461.2 514.2,458.3 525.0,455.9 C535.8,453.5 546.3,449.7 557.0,447.8 C567.7,445.9 578.2,444.6 589.0,444.6 C599.8,444.6 611.2,446.2 622.0,447.8 C632.8,449.4 644.3,452.2 654.0,454.3 C663.7,456.4 675.7,459.6 680.0,460.7 L680,700 L0,700 Z" fill="#ded0b7"/>
<path transform="translate(0,43.5)" d="M0.0,459.4 C5.0,458.4 20.2,455.5 30.0,453.5 C39.8,451.5 48.3,449.1 59.0,447.6 C69.7,446.1 84.2,444.5 94.0,444.5 C103.8,444.5 109.2,446.1 118.0,447.6 C126.8,449.1 139.2,451.8 147.0,453.5 C154.8,455.2 157.8,456.7 165.0,458.0 C172.2,459.3 181.2,460.7 190.0,461.5 C198.8,462.3 208.8,463.0 218.0,463.0 C227.2,463.0 236.3,462.3 245.0,461.5 C253.7,460.7 260.8,459.8 270.0,458.0 C279.2,456.2 290.2,452.6 300.0,450.6 C309.8,448.6 320.7,447.0 329.0,446.0 C337.3,445.0 340.2,443.9 350.0,444.7 C359.8,445.5 376.8,448.6 388.0,450.6 C399.2,452.6 407.2,454.7 417.0,456.5 C426.8,458.3 438.2,460.4 447.0,461.5 C455.8,462.6 462.5,462.9 470.0,463.0 C477.5,463.1 482.8,463.6 492.0,462.4 C501.2,461.2 514.2,458.3 525.0,455.9 C535.8,453.5 546.3,449.7 557.0,447.8 C567.7,445.9 578.2,444.6 589.0,444.6 C599.8,444.6 611.2,446.2 622.0,447.8 C632.8,449.4 644.3,452.2 654.0,454.3 C663.7,456.4 675.7,459.6 680.0,460.7 L680,700 L0,700 Z" fill="#dfd1ba"/>
<path transform="translate(0,45)" d="M0.0,459.4 C5.0,458.4 20.2,455.5 30.0,453.5 C39.8,451.5 48.3,449.1 59.0,447.6 C69.7,446.1 84.2,444.5 94.0,444.5 C103.8,444.5 109.2,446.1 118.0,447.6 C126.8,449.1 139.2,451.8 147.0,453.5 C154.8,455.2 157.8,456.7 165.0,458.0 C172.2,459.3 181.2,460.7 190.0,461.5 C198.8,462.3 208.8,463.0 218.0,463.0 C227.2,463.0 236.3,462.3 245.0,461.5 C253.7,460.7 260.8,459.8 270.0,458.0 C279.2,456.2 290.2,452.6 300.0,450.6 C309.8,448.6 320.7,447.0 329.0,446.0 C337.3,445.0 340.2,443.9 350.0,444.7 C359.8,445.5 376.8,448.6 388.0,450.6 C399.2,452.6 407.2,454.7 417.0,456.5 C426.8,458.3 438.2,460.4 447.0,461.5 C455.8,462.6 462.5,462.9 470.0,463.0 C477.5,463.1 482.8,463.6 492.0,462.4 C501.2,461.2 514.2,458.3 525.0,455.9 C535.8,453.5 546.3,449.7 557.0,447.8 C567.7,445.9 578.2,444.6 589.0,444.6 C599.8,444.6 611.2,446.2 622.0,447.8 C632.8,449.4 644.3,452.2 654.0,454.3 C663.7,456.4 675.7,459.6 680.0,460.7 L680,700 L0,700 Z" fill="#e0d2bc"/>
<path transform="translate(0,46.5)" d="M0.0,459.4 C5.0,458.4 20.2,455.5 30.0,453.5 C39.8,451.5 48.3,449.1 59.0,447.6 C69.7,446.1 84.2,444.5 94.0,444.5 C103.8,444.5 109.2,446.1 118.0,447.6 C126.8,449.1 139.2,451.8 147.0,453.5 C154.8,455.2 157.8,456.7 165.0,458.0 C172.2,459.3 181.2,460.7 190.0,461.5 C198.8,462.3 208.8,463.0 218.0,463.0 C227.2,463.0 236.3,462.3 245.0,461.5 C253.7,460.7 260.8,459.8 270.0,458.0 C279.2,456.2 290.2,452.6 300.0,450.6 C309.8,448.6 320.7,447.0 329.0,446.0 C337.3,445.0 340.2,443.9 350.0,444.7 C359.8,445.5 376.8,448.6 388.0,450.6 C399.2,452.6 407.2,454.7 417.0,456.5 C426.8,458.3 438.2,460.4 447.0,461.5 C455.8,462.6 462.5,462.9 470.0,463.0 C477.5,463.1 482.8,463.6 492.0,462.4 C501.2,461.2 514.2,458.3 525.0,455.9 C535.8,453.5 546.3,449.7 557.0,447.8 C567.7,445.9 578.2,444.6 589.0,444.6 C599.8,444.6 611.2,446.2 622.0,447.8 C632.8,449.4 644.3,452.2 654.0,454.3 C663.7,456.4 675.7,459.6 680.0,460.7 L680,700 L0,700 Z" fill="#e2d4be"/>
<path transform="translate(0,48)" d="M0.0,459.4 C5.0,458.4 20.2,455.5 30.0,453.5 C39.8,451.5 48.3,449.1 59.0,447.6 C69.7,446.1 84.2,444.5 94.0,444.5 C103.8,444.5 109.2,446.1 118.0,447.6 C126.8,449.1 139.2,451.8 147.0,453.5 C154.8,455.2 157.8,456.7 165.0,458.0 C172.2,459.3 181.2,460.7 190.0,461.5 C198.8,462.3 208.8,463.0 218.0,463.0 C227.2,463.0 236.3,462.3 245.0,461.5 C253.7,460.7 260.8,459.8 270.0,458.0 C279.2,456.2 290.2,452.6 300.0,450.6 C309.8,448.6 320.7,447.0 329.0,446.0 C337.3,445.0 340.2,443.9 350.0,444.7 C359.8,445.5 376.8,448.6 388.0,450.6 C399.2,452.6 407.2,454.7 417.0,456.5 C426.8,458.3 438.2,460.4 447.0,461.5 C455.8,462.6 462.5,462.9 470.0,463.0 C477.5,463.1 482.8,463.6 492.0,462.4 C501.2,461.2 514.2,458.3 525.0,455.9 C535.8,453.5 546.3,449.7 557.0,447.8 C567.7,445.9 578.2,444.6 589.0,444.6 C599.8,444.6 611.2,446.2 622.0,447.8 C632.8,449.4 644.3,452.2 654.0,454.3 C663.7,456.4 675.7,459.6 680.0,460.7 L680,700 L0,700 Z" fill="#e3d5c1"/>
<path transform="translate(0,49.5)" d="M0.0,459.4 C5.0,458.4 20.2,455.5 30.0,453.5 C39.8,451.5 48.3,449.1 59.0,447.6 C69.7,446.1 84.2,444.5 94.0,444.5 C103.8,444.5 109.2,446.1 118.0,447.6 C126.8,449.1 139.2,451.8 147.0,453.5 C154.8,455.2 157.8,456.7 165.0,458.0 C172.2,459.3 181.2,460.7 190.0,461.5 C198.8,462.3 208.8,463.0 218.0,463.0 C227.2,463.0 236.3,462.3 245.0,461.5 C253.7,460.7 260.8,459.8 270.0,458.0 C279.2,456.2 290.2,452.6 300.0,450.6 C309.8,448.6 320.7,447.0 329.0,446.0 C337.3,445.0 340.2,443.9 350.0,444.7 C359.8,445.5 376.8,448.6 388.0,450.6 C399.2,452.6 407.2,454.7 417.0,456.5 C426.8,458.3 438.2,460.4 447.0,461.5 C455.8,462.6 462.5,462.9 470.0,463.0 C477.5,463.1 482.8,463.6 492.0,462.4 C501.2,461.2 514.2,458.3 525.0,455.9 C535.8,453.5 546.3,449.7 557.0,447.8 C567.7,445.9 578.2,444.6 589.0,444.6 C599.8,444.6 611.2,446.2 622.0,447.8 C632.8,449.4 644.3,452.2 654.0,454.3 C663.7,456.4 675.7,459.6 680.0,460.7 L680,700 L0,700 Z" fill="#e4d7c3"/>
<path transform="translate(0,51)" d="M0.0,459.4 C5.0,458.4 20.2,455.5 30.0,453.5 C39.8,451.5 48.3,449.1 59.0,447.6 C69.7,446.1 84.2,444.5 94.0,444.5 C103.8,444.5 109.2,446.1 118.0,447.6 C126.8,449.1 139.2,451.8 147.0,453.5 C154.8,455.2 157.8,456.7 165.0,458.0 C172.2,459.3 181.2,460.7 190.0,461.5 C198.8,462.3 208.8,463.0 218.0,463.0 C227.2,463.0 236.3,462.3 245.0,461.5 C253.7,460.7 260.8,459.8 270.0,458.0 C279.2,456.2 290.2,452.6 300.0,450.6 C309.8,448.6 320.7,447.0 329.0,446.0 C337.3,445.0 340.2,443.9 350.0,444.7 C359.8,445.5 376.8,448.6 388.0,450.6 C399.2,452.6 407.2,454.7 417.0,456.5 C426.8,458.3 438.2,460.4 447.0,461.5 C455.8,462.6 462.5,462.9 470.0,463.0 C477.5,463.1 482.8,463.6 492.0,462.4 C501.2,461.2 514.2,458.3 525.0,455.9 C535.8,453.5 546.3,449.7 557.0,447.8 C567.7,445.9 578.2,444.6 589.0,444.6 C599.8,444.6 611.2,446.2 622.0,447.8 C632.8,449.4 644.3,452.2 654.0,454.3 C663.7,456.4 675.7,459.6 680.0,460.7 L680,700 L0,700 Z" fill="#e5d8c6"/>
<path transform="translate(0,52.5)" d="M0.0,459.4 C5.0,458.4 20.2,455.5 30.0,453.5 C39.8,451.5 48.3,449.1 59.0,447.6 C69.7,446.1 84.2,444.5 94.0,444.5 C103.8,444.5 109.2,446.1 118.0,447.6 C126.8,449.1 139.2,451.8 147.0,453.5 C154.8,455.2 157.8,456.7 165.0,458.0 C172.2,459.3 181.2,460.7 190.0,461.5 C198.8,462.3 208.8,463.0 218.0,463.0 C227.2,463.0 236.3,462.3 245.0,461.5 C253.7,460.7 260.8,459.8 270.0,458.0 C279.2,456.2 290.2,452.6 300.0,450.6 C309.8,448.6 320.7,447.0 329.0,446.0 C337.3,445.0 340.2,443.9 350.0,444.7 C359.8,445.5 376.8,448.6 388.0,450.6 C399.2,452.6 407.2,454.7 417.0,456.5 C426.8,458.3 438.2,460.4 447.0,461.5 C455.8,462.6 462.5,462.9 470.0,463.0 C477.5,463.1 482.8,463.6 492.0,462.4 C501.2,461.2 514.2,458.3 525.0,455.9 C535.8,453.5 546.3,449.7 557.0,447.8 C567.7,445.9 578.2,444.6 589.0,444.6 C599.8,444.6 611.2,446.2 622.0,447.8 C632.8,449.4 644.3,452.2 654.0,454.3 C663.7,456.4 675.7,459.6 680.0,460.7 L680,700 L0,700 Z" fill="#e6dbca"/>
<path transform="translate(0,54)" d="M0.0,459.4 C5.0,458.4 20.2,455.5 30.0,453.5 C39.8,451.5 48.3,449.1 59.0,447.6 C69.7,446.1 84.2,444.5 94.0,444.5 C103.8,444.5 109.2,446.1 118.0,447.6 C126.8,449.1 139.2,451.8 147.0,453.5 C154.8,455.2 157.8,456.7 165.0,458.0 C172.2,459.3 181.2,460.7 190.0,461.5 C198.8,462.3 208.8,463.0 218.0,463.0 C227.2,463.0 236.3,462.3 245.0,461.5 C253.7,460.7 260.8,459.8 270.0,458.0 C279.2,456.2 290.2,452.6 300.0,450.6 C309.8,448.6 320.7,447.0 329.0,446.0 C337.3,445.0 340.2,443.9 350.0,444.7 C359.8,445.5 376.8,448.6 388.0,450.6 C399.2,452.6 407.2,454.7 417.0,456.5 C426.8,458.3 438.2,460.4 447.0,461.5 C455.8,462.6 462.5,462.9 470.0,463.0 C477.5,463.1 482.8,463.6 492.0,462.4 C501.2,461.2 514.2,458.3 525.0,455.9 C535.8,453.5 546.3,449.7 557.0,447.8 C567.7,445.9 578.2,444.6 589.0,444.6 C599.8,444.6 611.2,446.2 622.0,447.8 C632.8,449.4 644.3,452.2 654.0,454.3 C663.7,456.4 675.7,459.6 680.0,460.7 L680,700 L0,700 Z" fill="#e8ddcd"/>
<path transform="translate(0,55.5)" d="M0.0,459.4 C5.0,458.4 20.2,455.5 30.0,453.5 C39.8,451.5 48.3,449.1 59.0,447.6 C69.7,446.1 84.2,444.5 94.0,444.5 C103.8,444.5 109.2,446.1 118.0,447.6 C126.8,449.1 139.2,451.8 147.0,453.5 C154.8,455.2 157.8,456.7 165.0,458.0 C172.2,459.3 181.2,460.7 190.0,461.5 C198.8,462.3 208.8,463.0 218.0,463.0 C227.2,463.0 236.3,462.3 245.0,461.5 C253.7,460.7 260.8,459.8 270.0,458.0 C279.2,456.2 290.2,452.6 300.0,450.6 C309.8,448.6 320.7,447.0 329.0,446.0 C337.3,445.0 340.2,443.9 350.0,444.7 C359.8,445.5 376.8,448.6 388.0,450.6 C399.2,452.6 407.2,454.7 417.0,456.5 C426.8,458.3 438.2,460.4 447.0,461.5 C455.8,462.6 462.5,462.9 470.0,463.0 C477.5,463.1 482.8,463.6 492.0,462.4 C501.2,461.2 514.2,458.3 525.0,455.9 C535.8,453.5 546.3,449.7 557.0,447.8 C567.7,445.9 578.2,444.6 589.0,444.6 C599.8,444.6 611.2,446.2 622.0,447.8 C632.8,449.4 644.3,452.2 654.0,454.3 C663.7,456.4 675.7,459.6 680.0,460.7 L680,700 L0,700 Z" fill="#eadfd0"/>
<path transform="translate(0,57)" d="M0.0,459.4 C5.0,458.4 20.2,455.5 30.0,453.5 C39.8,451.5 48.3,449.1 59.0,447.6 C69.7,446.1 84.2,444.5 94.0,444.5 C103.8,444.5 109.2,446.1 118.0,447.6 C126.8,449.1 139.2,451.8 147.0,453.5 C154.8,455.2 157.8,456.7 165.0,458.0 C172.2,459.3 181.2,460.7 190.0,461.5 C198.8,462.3 208.8,463.0 218.0,463.0 C227.2,463.0 236.3,462.3 245.0,461.5 C253.7,460.7 260.8,459.8 270.0,458.0 C279.2,456.2 290.2,452.6 300.0,450.6 C309.8,448.6 320.7,447.0 329.0,446.0 C337.3,445.0 340.2,443.9 350.0,444.7 C359.8,445.5 376.8,448.6 388.0,450.6 C399.2,452.6 407.2,454.7 417.0,456.5 C426.8,458.3 438.2,460.4 447.0,461.5 C455.8,462.6 462.5,462.9 470.0,463.0 C477.5,463.1 482.8,463.6 492.0,462.4 C501.2,461.2 514.2,458.3 525.0,455.9 C535.8,453.5 546.3,449.7 557.0,447.8 C567.7,445.9 578.2,444.6 589.0,444.6 C599.8,444.6 611.2,446.2 622.0,447.8 C632.8,449.4 644.3,452.2 654.0,454.3 C663.7,456.4 675.7,459.6 680.0,460.7 L680,700 L0,700 Z" fill="#ebe2d4"/>
<path transform="translate(0,58.5)" d="M0.0,459.4 C5.0,458.4 20.2,455.5 30.0,453.5 C39.8,451.5 48.3,449.1 59.0,447.6 C69.7,446.1 84.2,444.5 94.0,444.5 C103.8,444.5 109.2,446.1 118.0,447.6 C126.8,449.1 139.2,451.8 147.0,453.5 C154.8,455.2 157.8,456.7 165.0,458.0 C172.2,459.3 181.2,460.7 190.0,461.5 C198.8,462.3 208.8,463.0 218.0,463.0 C227.2,463.0 236.3,462.3 245.0,461.5 C253.7,460.7 260.8,459.8 270.0,458.0 C279.2,456.2 290.2,452.6 300.0,450.6 C309.8,448.6 320.7,447.0 329.0,446.0 C337.3,445.0 340.2,443.9 350.0,444.7 C359.8,445.5 376.8,448.6 388.0,450.6 C399.2,452.6 407.2,454.7 417.0,456.5 C426.8,458.3 438.2,460.4 447.0,461.5 C455.8,462.6 462.5,462.9 470.0,463.0 C477.5,463.1 482.8,463.6 492.0,462.4 C501.2,461.2 514.2,458.3 525.0,455.9 C535.8,453.5 546.3,449.7 557.0,447.8 C567.7,445.9 578.2,444.6 589.0,444.6 C599.8,444.6 611.2,446.2 622.0,447.8 C632.8,449.4 644.3,452.2 654.0,454.3 C663.7,456.4 675.7,459.6 680.0,460.7 L680,700 L0,700 Z" fill="#ece4d7"/>
<path transform="translate(0,60)" d="M0.0,459.4 C5.0,458.4 20.2,455.5 30.0,453.5 C39.8,451.5 48.3,449.1 59.0,447.6 C69.7,446.1 84.2,444.5 94.0,444.5 C103.8,444.5 109.2,446.1 118.0,447.6 C126.8,449.1 139.2,451.8 147.0,453.5 C154.8,455.2 157.8,456.7 165.0,458.0 C172.2,459.3 181.2,460.7 190.0,461.5 C198.8,462.3 208.8,463.0 218.0,463.0 C227.2,463.0 236.3,462.3 245.0,461.5 C253.7,460.7 260.8,459.8 270.0,458.0 C279.2,456.2 290.2,452.6 300.0,450.6 C309.8,448.6 320.7,447.0 329.0,446.0 C337.3,445.0 340.2,443.9 350.0,444.7 C359.8,445.5 376.8,448.6 388.0,450.6 C399.2,452.6 407.2,454.7 417.0,456.5 C426.8,458.3 438.2,460.4 447.0,461.5 C455.8,462.6 462.5,462.9 470.0,463.0 C477.5,463.1 482.8,463.6 492.0,462.4 C501.2,461.2 514.2,458.3 525.0,455.9 C535.8,453.5 546.3,449.7 557.0,447.8 C567.7,445.9 578.2,444.6 589.0,444.6 C599.8,444.6 611.2,446.2 622.0,447.8 C632.8,449.4 644.3,452.2 654.0,454.3 C663.7,456.4 675.7,459.6 680.0,460.7 L680,700 L0,700 Z" fill="#eee6da"/>
<path transform="translate(0,61.5)" d="M0.0,459.4 C5.0,458.4 20.2,455.5 30.0,453.5 C39.8,451.5 48.3,449.1 59.0,447.6 C69.7,446.1 84.2,444.5 94.0,444.5 C103.8,444.5 109.2,446.1 118.0,447.6 C126.8,449.1 139.2,451.8 147.0,453.5 C154.8,455.2 157.8,456.7 165.0,458.0 C172.2,459.3 181.2,460.7 190.0,461.5 C198.8,462.3 208.8,463.0 218.0,463.0 C227.2,463.0 236.3,462.3 245.0,461.5 C253.7,460.7 260.8,459.8 270.0,458.0 C279.2,456.2 290.2,452.6 300.0,450.6 C309.8,448.6 320.7,447.0 329.0,446.0 C337.3,445.0 340.2,443.9 350.0,444.7 C359.8,445.5 376.8,448.6 388.0,450.6 C399.2,452.6 407.2,454.7 417.0,456.5 C426.8,458.3 438.2,460.4 447.0,461.5 C455.8,462.6 462.5,462.9 470.0,463.0 C477.5,463.1 482.8,463.6 492.0,462.4 C501.2,461.2 514.2,458.3 525.0,455.9 C535.8,453.5 546.3,449.7 557.0,447.8 C567.7,445.9 578.2,444.6 589.0,444.6 C599.8,444.6 611.2,446.2 622.0,447.8 C632.8,449.4 644.3,452.2 654.0,454.3 C663.7,456.4 675.7,459.6 680.0,460.7 L680,700 L0,700 Z" fill="#efe8de"/>
<path transform="translate(0,63)" d="M0.0,459.4 C5.0,458.4 20.2,455.5 30.0,453.5 C39.8,451.5 48.3,449.1 59.0,447.6 C69.7,446.1 84.2,444.5 94.0,444.5 C103.8,444.5 109.2,446.1 118.0,447.6 C126.8,449.1 139.2,451.8 147.0,453.5 C154.8,455.2 157.8,456.7 165.0,458.0 C172.2,459.3 181.2,460.7 190.0,461.5 C198.8,462.3 208.8,463.0 218.0,463.0 C227.2,463.0 236.3,462.3 245.0,461.5 C253.7,460.7 260.8,459.8 270.0,458.0 C279.2,456.2 290.2,452.6 300.0,450.6 C309.8,448.6 320.7,447.0 329.0,446.0 C337.3,445.0 340.2,443.9 350.0,444.7 C359.8,445.5 376.8,448.6 388.0,450.6 C399.2,452.6 407.2,454.7 417.0,456.5 C426.8,458.3 438.2,460.4 447.0,461.5 C455.8,462.6 462.5,462.9 470.0,463.0 C477.5,463.1 482.8,463.6 492.0,462.4 C501.2,461.2 514.2,458.3 525.0,455.9 C535.8,453.5 546.3,449.7 557.0,447.8 C567.7,445.9 578.2,444.6 589.0,444.6 C599.8,444.6 611.2,446.2 622.0,447.8 C632.8,449.4 644.3,452.2 654.0,454.3 C663.7,456.4 675.7,459.6 680.0,460.7 L680,700 L0,700 Z" fill="#f0eae1"/>
<path transform="translate(0,64.5)" d="M0.0,459.4 C5.0,458.4 20.2,455.5 30.0,453.5 C39.8,451.5 48.3,449.1 59.0,447.6 C69.7,446.1 84.2,444.5 94.0,444.5 C103.8,444.5 109.2,446.1 118.0,447.6 C126.8,449.1 139.2,451.8 147.0,453.5 C154.8,455.2 157.8,456.7 165.0,458.0 C172.2,459.3 181.2,460.7 190.0,461.5 C198.8,462.3 208.8,463.0 218.0,463.0 C227.2,463.0 236.3,462.3 245.0,461.5 C253.7,460.7 260.8,459.8 270.0,458.0 C279.2,456.2 290.2,452.6 300.0,450.6 C309.8,448.6 320.7,447.0 329.0,446.0 C337.3,445.0 340.2,443.9 350.0,444.7 C359.8,445.5 376.8,448.6 388.0,450.6 C399.2,452.6 407.2,454.7 417.0,456.5 C426.8,458.3 438.2,460.4 447.0,461.5 C455.8,462.6 462.5,462.9 470.0,463.0 C477.5,463.1 482.8,463.6 492.0,462.4 C501.2,461.2 514.2,458.3 525.0,455.9 C535.8,453.5 546.3,449.7 557.0,447.8 C567.7,445.9 578.2,444.6 589.0,444.6 C599.8,444.6 611.2,446.2 622.0,447.8 C632.8,449.4 644.3,452.2 654.0,454.3 C663.7,456.4 675.7,459.6 680.0,460.7 L680,700 L0,700 Z" fill="#f2ece5"/>
<path transform="translate(0,66)" d="M0.0,459.4 C5.0,458.4 20.2,455.5 30.0,453.5 C39.8,451.5 48.3,449.1 59.0,447.6 C69.7,446.1 84.2,444.5 94.0,444.5 C103.8,444.5 109.2,446.1 118.0,447.6 C126.8,449.1 139.2,451.8 147.0,453.5 C154.8,455.2 157.8,456.7 165.0,458.0 C172.2,459.3 181.2,460.7 190.0,461.5 C198.8,462.3 208.8,463.0 218.0,463.0 C227.2,463.0 236.3,462.3 245.0,461.5 C253.7,460.7 260.8,459.8 270.0,458.0 C279.2,456.2 290.2,452.6 300.0,450.6 C309.8,448.6 320.7,447.0 329.0,446.0 C337.3,445.0 340.2,443.9 350.0,444.7 C359.8,445.5 376.8,448.6 388.0,450.6 C399.2,452.6 407.2,454.7 417.0,456.5 C426.8,458.3 438.2,460.4 447.0,461.5 C455.8,462.6 462.5,462.9 470.0,463.0 C477.5,463.1 482.8,463.6 492.0,462.4 C501.2,461.2 514.2,458.3 525.0,455.9 C535.8,453.5 546.3,449.7 557.0,447.8 C567.7,445.9 578.2,444.6 589.0,444.6 C599.8,444.6 611.2,446.2 622.0,447.8 C632.8,449.4 644.3,452.2 654.0,454.3 C663.7,456.4 675.7,459.6 680.0,460.7 L680,700 L0,700 Z" fill="#f3eee8"/>
<path transform="translate(0,67.5)" d="M0.0,459.4 C5.0,458.4 20.2,455.5 30.0,453.5 C39.8,451.5 48.3,449.1 59.0,447.6 C69.7,446.1 84.2,444.5 94.0,444.5 C103.8,444.5 109.2,446.1 118.0,447.6 C126.8,449.1 139.2,451.8 147.0,453.5 C154.8,455.2 157.8,456.7 165.0,458.0 C172.2,459.3 181.2,460.7 190.0,461.5 C198.8,462.3 208.8,463.0 218.0,463.0 C227.2,463.0 236.3,462.3 245.0,461.5 C253.7,460.7 260.8,459.8 270.0,458.0 C279.2,456.2 290.2,452.6 300.0,450.6 C309.8,448.6 320.7,447.0 329.0,446.0 C337.3,445.0 340.2,443.9 350.0,444.7 C359.8,445.5 376.8,448.6 388.0,450.6 C399.2,452.6 407.2,454.7 417.0,456.5 C426.8,458.3 438.2,460.4 447.0,461.5 C455.8,462.6 462.5,462.9 470.0,463.0 C477.5,463.1 482.8,463.6 492.0,462.4 C501.2,461.2 514.2,458.3 525.0,455.9 C535.8,453.5 546.3,449.7 557.0,447.8 C567.7,445.9 578.2,444.6 589.0,444.6 C599.8,444.6 611.2,446.2 622.0,447.8 C632.8,449.4 644.3,452.2 654.0,454.3 C663.7,456.4 675.7,459.6 680.0,460.7 L680,700 L0,700 Z" fill="#f4f0ea"/>
<path transform="translate(0,69)" d="M0.0,459.4 C5.0,458.4 20.2,455.5 30.0,453.5 C39.8,451.5 48.3,449.1 59.0,447.6 C69.7,446.1 84.2,444.5 94.0,444.5 C103.8,444.5 109.2,446.1 118.0,447.6 C126.8,449.1 139.2,451.8 147.0,453.5 C154.8,455.2 157.8,456.7 165.0,458.0 C172.2,459.3 181.2,460.7 190.0,461.5 C198.8,462.3 208.8,463.0 218.0,463.0 C227.2,463.0 236.3,462.3 245.0,461.5 C253.7,460.7 260.8,459.8 270.0,458.0 C279.2,456.2 290.2,452.6 300.0,450.6 C309.8,448.6 320.7,447.0 329.0,446.0 C337.3,445.0 340.2,443.9 350.0,444.7 C359.8,445.5 376.8,448.6 388.0,450.6 C399.2,452.6 407.2,454.7 417.0,456.5 C426.8,458.3 438.2,460.4 447.0,461.5 C455.8,462.6 462.5,462.9 470.0,463.0 C477.5,463.1 482.8,463.6 492.0,462.4 C501.2,461.2 514.2,458.3 525.0,455.9 C535.8,453.5 546.3,449.7 557.0,447.8 C567.7,445.9 578.2,444.6 589.0,444.6 C599.8,444.6 611.2,446.2 622.0,447.8 C632.8,449.4 644.3,452.2 654.0,454.3 C663.7,456.4 675.7,459.6 680.0,460.7 L680,700 L0,700 Z" fill="#f5f1ed"/>
<path transform="translate(0,70.5)" d="M0.0,459.4 C5.0,458.4 20.2,455.5 30.0,453.5 C39.8,451.5 48.3,449.1 59.0,447.6 C69.7,446.1 84.2,444.5 94.0,444.5 C103.8,444.5 109.2,446.1 118.0,447.6 C126.8,449.1 139.2,451.8 147.0,453.5 C154.8,455.2 157.8,456.7 165.0,458.0 C172.2,459.3 181.2,460.7 190.0,461.5 C198.8,462.3 208.8,463.0 218.0,463.0 C227.2,463.0 236.3,462.3 245.0,461.5 C253.7,460.7 260.8,459.8 270.0,458.0 C279.2,456.2 290.2,452.6 300.0,450.6 C309.8,448.6 320.7,447.0 329.0,446.0 C337.3,445.0 340.2,443.9 350.0,444.7 C359.8,445.5 376.8,448.6 388.0,450.6 C399.2,452.6 407.2,454.7 417.0,456.5 C426.8,458.3 438.2,460.4 447.0,461.5 C455.8,462.6 462.5,462.9 470.0,463.0 C477.5,463.1 482.8,463.6 492.0,462.4 C501.2,461.2 514.2,458.3 525.0,455.9 C535.8,453.5 546.3,449.7 557.0,447.8 C567.7,445.9 578.2,444.6 589.0,444.6 C599.8,444.6 611.2,446.2 622.0,447.8 C632.8,449.4 644.3,452.2 654.0,454.3 C663.7,456.4 675.7,459.6 680.0,460.7 L680,700 L0,700 Z" fill="#f6f3ef"/>
<path transform="translate(0,72)" d="M0.0,459.4 C5.0,458.4 20.2,455.5 30.0,453.5 C39.8,451.5 48.3,449.1 59.0,447.6 C69.7,446.1 84.2,444.5 94.0,444.5 C103.8,444.5 109.2,446.1 118.0,447.6 C126.8,449.1 139.2,451.8 147.0,453.5 C154.8,455.2 157.8,456.7 165.0,458.0 C172.2,459.3 181.2,460.7 190.0,461.5 C198.8,462.3 208.8,463.0 218.0,463.0 C227.2,463.0 236.3,462.3 245.0,461.5 C253.7,460.7 260.8,459.8 270.0,458.0 C279.2,456.2 290.2,452.6 300.0,450.6 C309.8,448.6 320.7,447.0 329.0,446.0 C337.3,445.0 340.2,443.9 350.0,444.7 C359.8,445.5 376.8,448.6 388.0,450.6 C399.2,452.6 407.2,454.7 417.0,456.5 C426.8,458.3 438.2,460.4 447.0,461.5 C455.8,462.6 462.5,462.9 470.0,463.0 C477.5,463.1 482.8,463.6 492.0,462.4 C501.2,461.2 514.2,458.3 525.0,455.9 C535.8,453.5 546.3,449.7 557.0,447.8 C567.7,445.9 578.2,444.6 589.0,444.6 C599.8,444.6 611.2,446.2 622.0,447.8 C632.8,449.4 644.3,452.2 654.0,454.3 C663.7,456.4 675.7,459.6 680.0,460.7 L680,700 L0,700 Z" fill="#f8f5f2"/>
<path transform="translate(0,73.5)" d="M0.0,459.4 C5.0,458.4 20.2,455.5 30.0,453.5 C39.8,451.5 48.3,449.1 59.0,447.6 C69.7,446.1 84.2,444.5 94.0,444.5 C103.8,444.5 109.2,446.1 118.0,447.6 C126.8,449.1 139.2,451.8 147.0,453.5 C154.8,455.2 157.8,456.7 165.0,458.0 C172.2,459.3 181.2,460.7 190.0,461.5 C198.8,462.3 208.8,463.0 218.0,463.0 C227.2,463.0 236.3,462.3 245.0,461.5 C253.7,460.7 260.8,459.8 270.0,458.0 C279.2,456.2 290.2,452.6 300.0,450.6 C309.8,448.6 320.7,447.0 329.0,446.0 C337.3,445.0 340.2,443.9 350.0,444.7 C359.8,445.5 376.8,448.6 388.0,450.6 C399.2,452.6 407.2,454.7 417.0,456.5 C426.8,458.3 438.2,460.4 447.0,461.5 C455.8,462.6 462.5,462.9 470.0,463.0 C477.5,463.1 482.8,463.6 492.0,462.4 C501.2,461.2 514.2,458.3 525.0,455.9 C535.8,453.5 546.3,449.7 557.0,447.8 C567.7,445.9 578.2,444.6 589.0,444.6 C599.8,444.6 611.2,446.2 622.0,447.8 C632.8,449.4 644.3,452.2 654.0,454.3 C663.7,456.4 675.7,459.6 680.0,460.7 L680,700 L0,700 Z" fill="#f9f6f4"/>
<path transform="translate(0,75)" d="M0.0,459.4 C5.0,458.4 20.2,455.5 30.0,453.5 C39.8,451.5 48.3,449.1 59.0,447.6 C69.7,446.1 84.2,444.5 94.0,444.5 C103.8,444.5 109.2,446.1 118.0,447.6 C126.8,449.1 139.2,451.8 147.0,453.5 C154.8,455.2 157.8,456.7 165.0,458.0 C172.2,459.3 181.2,460.7 190.0,461.5 C198.8,462.3 208.8,463.0 218.0,463.0 C227.2,463.0 236.3,462.3 245.0,461.5 C253.7,460.7 260.8,459.8 270.0,458.0 C279.2,456.2 290.2,452.6 300.0,450.6 C309.8,448.6 320.7,447.0 329.0,446.0 C337.3,445.0 340.2,443.9 350.0,444.7 C359.8,445.5 376.8,448.6 388.0,450.6 C399.2,452.6 407.2,454.7 417.0,456.5 C426.8,458.3 438.2,460.4 447.0,461.5 C455.8,462.6 462.5,462.9 470.0,463.0 C477.5,463.1 482.8,463.6 492.0,462.4 C501.2,461.2 514.2,458.3 525.0,455.9 C535.8,453.5 546.3,449.7 557.0,447.8 C567.7,445.9 578.2,444.6 589.0,444.6 C599.8,444.6 611.2,446.2 622.0,447.8 C632.8,449.4 644.3,452.2 654.0,454.3 C663.7,456.4 675.7,459.6 680.0,460.7 L680,700 L0,700 Z" fill="#faf8f6"/>
<path transform="translate(0,76.5)" d="M0.0,459.4 C5.0,458.4 20.2,455.5 30.0,453.5 C39.8,451.5 48.3,449.1 59.0,447.6 C69.7,446.1 84.2,444.5 94.0,444.5 C103.8,444.5 109.2,446.1 118.0,447.6 C126.8,449.1 139.2,451.8 147.0,453.5 C154.8,455.2 157.8,456.7 165.0,458.0 C172.2,459.3 181.2,460.7 190.0,461.5 C198.8,462.3 208.8,463.0 218.0,463.0 C227.2,463.0 236.3,462.3 245.0,461.5 C253.7,460.7 260.8,459.8 270.0,458.0 C279.2,456.2 290.2,452.6 300.0,450.6 C309.8,448.6 320.7,447.0 329.0,446.0 C337.3,445.0 340.2,443.9 350.0,444.7 C359.8,445.5 376.8,448.6 388.0,450.6 C399.2,452.6 407.2,454.7 417.0,456.5 C426.8,458.3 438.2,460.4 447.0,461.5 C455.8,462.6 462.5,462.9 470.0,463.0 C477.5,463.1 482.8,463.6 492.0,462.4 C501.2,461.2 514.2,458.3 525.0,455.9 C535.8,453.5 546.3,449.7 557.0,447.8 C567.7,445.9 578.2,444.6 589.0,444.6 C599.8,444.6 611.2,446.2 622.0,447.8 C632.8,449.4 644.3,452.2 654.0,454.3 C663.7,456.4 675.7,459.6 680.0,460.7 L680,700 L0,700 Z" fill="#fbfaf8"/>
<path transform="translate(0,78)" d="M0.0,459.4 C5.0,458.4 20.2,455.5 30.0,453.5 C39.8,451.5 48.3,449.1 59.0,447.6 C69.7,446.1 84.2,444.5 94.0,444.5 C103.8,444.5 109.2,446.1 118.0,447.6 C126.8,449.1 139.2,451.8 147.0,453.5 C154.8,455.2 157.8,456.7 165.0,458.0 C172.2,459.3 181.2,460.7 190.0,461.5 C198.8,462.3 208.8,463.0 218.0,463.0 C227.2,463.0 236.3,462.3 245.0,461.5 C253.7,460.7 260.8,459.8 270.0,458.0 C279.2,456.2 290.2,452.6 300.0,450.6 C309.8,448.6 320.7,447.0 329.0,446.0 C337.3,445.0 340.2,443.9 350.0,444.7 C359.8,445.5 376.8,448.6 388.0,450.6 C399.2,452.6 407.2,454.7 417.0,456.5 C426.8,458.3 438.2,460.4 447.0,461.5 C455.8,462.6 462.5,462.9 470.0,463.0 C477.5,463.1 482.8,463.6 492.0,462.4 C501.2,461.2 514.2,458.3 525.0,455.9 C535.8,453.5 546.3,449.7 557.0,447.8 C567.7,445.9 578.2,444.6 589.0,444.6 C599.8,444.6 611.2,446.2 622.0,447.8 C632.8,449.4 644.3,452.2 654.0,454.3 C663.7,456.4 675.7,459.6 680.0,460.7 L680,700 L0,700 Z" fill="#fcfbfa"/>
<path transform="translate(0,79.5)" d="M0.0,459.4 C5.0,458.4 20.2,455.5 30.0,453.5 C39.8,451.5 48.3,449.1 59.0,447.6 C69.7,446.1 84.2,444.5 94.0,444.5 C103.8,444.5 109.2,446.1 118.0,447.6 C126.8,449.1 139.2,451.8 147.0,453.5 C154.8,455.2 157.8,456.7 165.0,458.0 C172.2,459.3 181.2,460.7 190.0,461.5 C198.8,462.3 208.8,463.0 218.0,463.0 C227.2,463.0 236.3,462.3 245.0,461.5 C253.7,460.7 260.8,459.8 270.0,458.0 C279.2,456.2 290.2,452.6 300.0,450.6 C309.8,448.6 320.7,447.0 329.0,446.0 C337.3,445.0 340.2,443.9 350.0,444.7 C359.8,445.5 376.8,448.6 388.0,450.6 C399.2,452.6 407.2,454.7 417.0,456.5 C426.8,458.3 438.2,460.4 447.0,461.5 C455.8,462.6 462.5,462.9 470.0,463.0 C477.5,463.1 482.8,463.6 492.0,462.4 C501.2,461.2 514.2,458.3 525.0,455.9 C535.8,453.5 546.3,449.7 557.0,447.8 C567.7,445.9 578.2,444.6 589.0,444.6 C599.8,444.6 611.2,446.2 622.0,447.8 C632.8,449.4 644.3,452.2 654.0,454.3 C663.7,456.4 675.7,459.6 680.0,460.7 L680,700 L0,700 Z" fill="#fdfcfc"/>
<path transform="translate(0,81)" d="M0.0,459.4 C5.0,458.4 20.2,455.5 30.0,453.5 C39.8,451.5 48.3,449.1 59.0,447.6 C69.7,446.1 84.2,444.5 94.0,444.5 C103.8,444.5 109.2,446.1 118.0,447.6 C126.8,449.1 139.2,451.8 147.0,453.5 C154.8,455.2 157.8,456.7 165.0,458.0 C172.2,459.3 181.2,460.7 190.0,461.5 C198.8,462.3 208.8,463.0 218.0,463.0 C227.2,463.0 236.3,462.3 245.0,461.5 C253.7,460.7 260.8,459.8 270.0,458.0 C279.2,456.2 290.2,452.6 300.0,450.6 C309.8,448.6 320.7,447.0 329.0,446.0 C337.3,445.0 340.2,443.9 350.0,444.7 C359.8,445.5 376.8,448.6 388.0,450.6 C399.2,452.6 407.2,454.7 417.0,456.5 C426.8,458.3 438.2,460.4 447.0,461.5 C455.8,462.6 462.5,462.9 470.0,463.0 C477.5,463.1 482.8,463.6 492.0,462.4 C501.2,461.2 514.2,458.3 525.0,455.9 C535.8,453.5 546.3,449.7 557.0,447.8 C567.7,445.9 578.2,444.6 589.0,444.6 C599.8,444.6 611.2,446.2 622.0,447.8 C632.8,449.4 644.3,452.2 654.0,454.3 C663.7,456.4 675.7,459.6 680.0,460.7 L680,700 L0,700 Z" fill="#fefefe"/>
</g>
<path d="M0.0,459.4 C5.0,458.4 20.2,455.5 30.0,453.5 C39.8,451.5 48.3,449.1 59.0,447.6 C69.7,446.1 84.2,444.5 94.0,444.5 C103.8,444.5 109.2,446.1 118.0,447.6 C126.8,449.1 139.2,451.8 147.0,453.5 C154.8,455.2 157.8,456.7 165.0,458.0 C172.2,459.3 181.2,460.7 190.0,461.5 C198.8,462.3 208.8,463.0 218.0,463.0 C227.2,463.0 236.3,462.3 245.0,461.5 C253.7,460.7 260.8,459.8 270.0,458.0 C279.2,456.2 290.2,452.6 300.0,450.6 C309.8,448.6 320.7,447.0 329.0,446.0 C337.3,445.0 340.2,443.9 350.0,444.7 C359.8,445.5 376.8,448.6 388.0,450.6 C399.2,452.6 407.2,454.7 417.0,456.5 C426.8,458.3 438.2,460.4 447.0,461.5 C455.8,462.6 462.5,462.9 470.0,463.0 C477.5,463.1 482.8,463.6 492.0,462.4 C501.2,461.2 514.2,458.3 525.0,455.9 C535.8,453.5 546.3,449.7 557.0,447.8 C567.7,445.9 578.2,444.6 589.0,444.6 C599.8,444.6 611.2,446.2 622.0,447.8 C632.8,449.4 644.3,452.2 654.0,454.3 C663.7,456.4 675.7,459.6 680.0,460.7" fill="none" stroke="#b8894e" stroke-width="1.6"/>

<!-- car body -->
<path d="M6.6,0 L125,0 C129.2,0.4 137.5,0.5 150.0,1.2 C162.5,1.9 183.3,3.2 200.0,4.7 C216.7,6.2 233.3,7.9 250.0,9.9 C266.7,11.9 283.3,14.1 300.0,16.6 C316.7,19.1 333.3,21.8 350.0,24.7 C366.7,27.6 383.3,30.8 400.0,34.3 C416.7,37.8 433.3,41.6 450.0,45.9 C466.7,50.2 486.7,56.1 500.0,60.2 C513.3,64.3 520.8,67.1 530.0,70.4 C539.2,73.7 548.0,77.0 555.0,80.2 C562.0,83.4 567.7,86.7 572.0,89.5 C576.3,92.3 578.7,94.3 581.0,97.0 C583.3,99.7 585.2,104.1 586.0,105.5 C587.1,109.2 590.3,120.4 592.5,128.0 C594.7,135.6 596.8,143.3 599.0,151.0 C601.2,158.7 604.8,170.2 606.0,174.0 C607.3,175.6 611.5,181.2 613.8,183.8 C616.1,186.4 617.8,187.9 620.0,189.5 C622.2,191.1 624.8,192.7 627.0,193.5 C629.2,194.3 632.0,194.3 633.0,194.5 L660,196 L668,205 L673,263 C667.1,265.4 648.2,273.5 637.6,277.5 C627.0,281.5 619.2,284.2 609.4,287.2 C599.6,290.2 590.2,293.3 578.8,295.5 C567.4,297.7 547.3,299.8 541.0,300.6 C542.3,302.8 545.9,308.7 549.0,313.0 C552.1,317.3 556.2,322.9 559.4,326.8 C562.6,330.7 565.1,333.6 568.0,336.5 C570.9,339.4 574.2,342.1 577.0,344.4 C579.8,346.7 582.3,348.6 585.0,350.3 C587.7,352.0 590.7,353.6 593.2,354.7 C595.7,355.8 597.8,356.4 600.0,357.0 C602.2,357.6 604.7,358.1 606.5,358.6 C608.3,359.1 610.2,359.9 611.0,360.2 Q614.5,361.5 613.5,363.8 Q612,365.8 606,365.8 L400,365.8 C399.3,364.5 397.1,362.8 396.0,357.0 C394.9,351.2 394.3,338.5 393.5,331.0 C392.7,323.5 391.8,317.2 391.0,312.0 C390.2,306.8 389.7,305.6 388.7,300.0 C387.7,294.4 386.4,285.1 384.9,278.2 C383.4,271.2 381.7,265.4 379.5,258.3 C377.3,251.2 374.6,241.6 371.8,235.3 C369.0,229.0 366.4,225.8 362.9,220.5 C359.4,215.2 355.2,209.6 350.6,203.7 C346.0,197.8 340.4,189.8 335.3,185.3 C330.2,180.8 324.4,178.9 320.0,176.9 C315.6,174.9 313.3,174.6 309.0,173.4 C304.7,172.2 299.0,170.7 294.0,169.7 C289.0,168.7 283.8,168.1 279.0,167.5 C274.2,166.9 269.8,166.4 265.0,166.0 C260.2,165.6 255.8,165.2 250.0,165.0 C244.2,164.8 236.7,164.9 230.0,165.0 C223.3,165.1 216.3,165.2 210.0,165.5 C203.7,165.8 197.3,166.4 192.0,166.8 C186.7,167.2 182.7,167.6 178.0,168.2 C173.3,168.8 168.8,169.5 164.0,170.4 C159.2,171.3 153.9,172.3 149.0,173.4 C144.1,174.5 139.5,175.4 134.7,177.0 C129.9,178.6 125.0,180.8 120.0,183.0 C115.0,185.2 110.0,187.4 105.0,190.3 C100.0,193.2 94.0,197.0 90.0,200.6 C86.0,204.2 83.7,206.6 81.0,212.0 C78.3,217.4 76.6,224.7 73.8,233.0 C71.0,241.3 66.9,253.9 64.3,262.0 C61.7,270.1 61.1,272.9 58.0,281.5 C54.9,290.1 50.2,304.4 45.9,313.6 C41.6,322.8 37.1,330.0 32.0,336.6 C26.9,343.2 19.5,349.7 15.3,353.4 C11.1,357.1 8.1,357.8 6.6,358.7 Z" fill="#f7a987" stroke="#d27c60" stroke-width="1.1"/>

<!-- highlights on body -->
<g clip-path="url(#bodyclip)">
<path d="M150.0,-4.8 C158.3,-4.2 183.3,-2.8 200.0,-1.3 C216.7,0.2 233.3,1.9 250.0,3.9 C266.7,5.9 283.3,8.1 300.0,10.6 C316.7,13.1 333.3,15.8 350.0,18.7 C366.7,21.6 383.3,24.8 400.0,28.3 C416.7,31.8 433.3,35.6 450.0,39.9 C466.7,44.2 486.7,50.1 500.0,54.2 C513.3,58.3 520.8,61.1 530.0,64.4 C539.2,67.7 548.7,71.5 555.0,74.2 C561.3,76.9 565.8,79.5 568.0,80.5 L568,88.5 C565.8,88.0 561.3,86.5 555.0,85.2 C548.7,83.9 539.2,82.2 530.0,80.4 C520.8,78.6 513.3,77.0 500.0,74.2 C486.7,71.5 466.7,67.4 450.0,63.9 C433.3,60.4 416.7,56.7 400.0,53.3 C383.3,49.9 366.7,47.0 350.0,43.7 C333.3,40.4 316.7,36.7 300.0,33.6 C283.3,30.5 266.7,27.5 250.0,24.9 C233.3,22.2 216.7,20.0 200.0,17.7 C183.3,15.4 158.3,12.3 150.0,11.2 Z" fill="#fbc8af" filter="url(#bl3)"/>
<path d="M20,2 L130,2" fill="none" stroke="#ec9878" stroke-width="3" filter="url(#bl2)" opacity="0.6"/>
<rect x="7" y="0" width="6" height="200" fill="#f9b999" opacity="0.35" filter="url(#bl2)"/>
<ellipse cx="508" cy="283" rx="66" ry="8" fill="#fcc9ae" filter="url(#bl5)"/>
<path d="M500,268 L672,264" stroke="#ee9474" stroke-width="4" filter="url(#bl2)" opacity="0.7"/>
<ellipse cx="499" cy="324" rx="36" ry="10" fill="#fcc6aa" filter="url(#bl5)"/>
</g>
<!-- crease line -->
<path d="M322.0,175.0 C324.3,175.9 331.2,178.3 336.0,180.5 C340.8,182.7 345.6,184.5 350.6,188.4 C355.6,192.3 361.2,198.3 366.0,203.7 C370.8,209.0 375.5,213.9 379.5,220.5 C383.5,227.1 386.9,235.4 390.2,243.0 C393.5,250.6 396.3,258.3 399.4,266.0 C402.5,273.7 405.7,281.6 408.6,289.0 C411.5,296.4 413.1,303.9 417.0,310.5 C420.9,317.1 427.6,323.6 432.3,328.5 C437.0,333.4 441.0,336.7 445.4,339.7 C449.8,342.7 454.1,345.0 458.5,346.3 C462.9,347.6 469.4,347.4 471.6,347.6" fill="none" stroke="#b8553f" stroke-width="1.6"/>

<!-- headlight -->
<path d="M539.5,106 L586,106 L606,175 L539.5,175 Z" fill="#e0c07a" stroke="#dca338" stroke-width="2.2"/>
<path d="M563.5,111.5 L587,111.5 L599.5,167 L563.5,167 Z" fill="#fde8d6" stroke="#ebc566" stroke-width="1.4"/>
<line x1="541" y1="171" x2="604" y2="171" stroke="#dcaa40" stroke-width="1"/>

<!-- bumper -->
<path d="M507,195 L664.5,195 Q674.3,195 674.3,204.5 L674.3,263 L510,268 Q498.5,268 498.5,257 L498.5,203.5 Q498.5,195 507,195 Z" fill="#7e7e7e" stroke="#505050" stroke-width="1.6"/>

<!-- tire -->
<path d="M172.3,457.7 A132.3,132.3 0 1 1 262.3,457.7 C245.8,463.7 188.8,463.7 172.3,457.7 Z" fill="#7f7f7f" stroke="#0d0d0d" stroke-width="2.6"/>
<path d="M175.3,449.5 A123.6,123.6 0 1 1 259.3,449.5 C237.3,457.5 197.3,457.5 175.3,449.5 Z" fill="none" stroke="#9a9a9a" stroke-width="1"/>
<path d="M174.3,452.1 A126.3,126.3 0 1 1 260.3,452.1 C238.4,460.0 196.2,460.0 174.3,452.1 Z" fill="none" stroke="#3c3c3c" stroke-width="1.5"/>

<!-- hub -->
<circle cx="218" cy="333.3" r="71.6" fill="#f4f4f4" stroke="#1a1a1a" stroke-width="1.8"/>
<circle cx="218" cy="333.3" r="66.7" fill="#e4e4e4" stroke="#141414" stroke-width="2.2"/>
<circle cx="218.2" cy="333.3" r="55.8" fill="#d9d9d9" stroke="#141414" stroke-width="2.3"/>
<circle cx="217.6" cy="333.4" r="29.2" fill="#ececec" stroke="#bdbdbd" stroke-width="1.5"/>
<circle cx="217.5" cy="333" r="13.3" fill="none" stroke="#adadad" stroke-width="1.4"/>

<!-- shock absorber lower tube -->
<rect x="204.5" y="181" width="30" height="72" fill="url(#rod)" stroke="#e4c24c" stroke-width="1.7"/>
<rect x="201.5" y="252.5" width="35" height="50.8" fill="url(#rod)" stroke="#e4c24c" stroke-width="1.7"/>
<g stroke="#dcba44" stroke-width="1.4">
<line x1="202" y1="256" x2="236" y2="256"/>
<line x1="202" y1="260" x2="236" y2="260"/>
<line x1="202" y1="264" x2="236" y2="264"/>
<line x1="202" y1="268.5" x2="236" y2="268.5"/>
<line x1="202" y1="277" x2="236" y2="277"/>
</g>

<!-- spring: back coils -->
<g stroke-linecap="round">
  <g stroke="#3f3f3f" stroke-width="9">
    <line x1="186" y1="82.8" x2="252" y2="87.8"/>
    <line x1="186" y1="97.8" x2="252" y2="107.4"/>
    <line x1="186" y1="115.0" x2="252" y2="128.3"/>
    <line x1="186" y1="137.5" x2="252" y2="145.8"/>
    <line x1="186" y1="154.7" x2="252" y2="164.7"/>
    <line x1="186" y1="173.0" x2="252" y2="175.0"/>
  </g>
  <g stroke="#8a8e8e" stroke-width="6.5">
    <line x1="186" y1="82.8" x2="252" y2="87.8"/>
    <line x1="186" y1="97.8" x2="252" y2="107.4"/>
    <line x1="186" y1="115.0" x2="252" y2="128.3"/>
    <line x1="186" y1="137.5" x2="252" y2="145.8"/>
    <line x1="186" y1="154.7" x2="252" y2="164.7"/>
    <line x1="186" y1="173.0" x2="252" y2="175.0"/>
  </g>
</g>
<!-- rod inside spring -->
<rect x="209" y="64" width="17" height="112" fill="url(#rod)" stroke="#d9b848" stroke-width="1.2"/>

<!-- top mount -->
<rect x="215" y="32.3" width="10" height="5.5" rx="2" fill="#e4e6e8" stroke="#333" stroke-width="1.3"/>
<path d="M190,49 C192,44 196,40 202,38 L236,38 C242,40 246,44 247,49 Z" fill="#d6d9dc" stroke="#3a3a3a" stroke-width="1.2"/>
<line x1="193" y1="43.3" x2="244.5" y2="43.3" stroke="#888" stroke-width="1"/>
<rect x="188" y="54.5" width="64" height="10.5" fill="#d4d6d8" stroke="#333" stroke-width="1.3"/>
<line x1="188" y1="59.6" x2="252" y2="59.6" stroke="#444" stroke-width="1.2"/>
<rect x="183" y="49" width="74" height="5.5" fill="#e2e4e6" stroke="#333" stroke-width="1.3"/>

<!-- spring: front coils -->
<g stroke-linecap="round">
  <g stroke="#363636" stroke-width="8.6">
    <line x1="186.5" y1="80.8" x2="251.5" y2="71.9"/>
    <line x1="186.5" y1="95.8" x2="251.5" y2="86.8"/>
    <line x1="186.5" y1="113.0" x2="251.5" y2="106.4"/>
    <line x1="186.5" y1="135.5" x2="251.5" y2="127.3"/>
    <line x1="186.5" y1="152.7" x2="251.5" y2="144.8"/>
    <line x1="186.5" y1="171.0" x2="251.5" y2="163.7"/>
  </g>
  <g stroke="#eeeef4" stroke-width="5.8">
    <line x1="186.5" y1="80.8" x2="251.5" y2="71.9"/>
    <line x1="186.5" y1="95.8" x2="251.5" y2="86.8"/>
    <line x1="186.5" y1="113.0" x2="251.5" y2="106.4"/>
    <line x1="186.5" y1="135.5" x2="251.5" y2="127.3"/>
    <line x1="186.5" y1="152.7" x2="251.5" y2="144.8"/>
    <line x1="186.5" y1="171.0" x2="251.5" y2="163.7"/>
  </g>
</g>
<!-- spring bottom plate -->
<rect x="184.6" y="179.4" width="72.2" height="3.6" fill="#8a8a8a" stroke="#333" stroke-width="1.1"/>
<rect x="180.6" y="176" width="80.2" height="3.6" fill="#a0a0a0" stroke="#333" stroke-width="1.1"/>

<!-- vertical double arrow -->
<line x1="218.4" y1="200" x2="218.4" y2="318" stroke="#000" stroke-width="2.5"/>
<path d="M218.4,184.5 L224.4,207 L212.6,207 Z" fill="#000"/>
<path d="M218.6,334.4 L224.6,310.5 L212.8,310.5 Z" fill="#000"/>

<!-- path of motion curve -->
<path d="M240.0,292.0 C241.2,294.1 244.8,300.6 247.0,304.5 C249.2,308.4 250.2,309.9 253.0,315.6 C255.8,321.3 260.4,331.7 263.7,338.6 C267.0,345.5 270.1,351.8 272.9,357.0 C275.7,362.2 277.6,365.7 280.5,370.0 C283.4,374.3 286.9,379.1 290.3,383.0 C293.7,386.9 297.3,391.1 300.6,393.3 C303.9,395.5 307.1,396.7 309.9,396.3 C312.6,395.9 315.2,393.4 317.1,391.2 C319.0,389.0 319.8,385.9 321.2,383.0 C322.6,380.1 323.8,376.3 325.3,373.7 C326.9,371.1 328.4,368.9 330.5,367.5 C332.6,366.1 335.3,365.4 337.7,365.4 C340.1,365.3 342.6,366.3 344.9,367.2 C347.2,368.1 347.8,368.3 351.5,371.0 C355.2,373.7 361.6,378.1 367.0,383.6 C372.4,389.1 378.9,396.9 384.0,404.0 C389.1,411.1 393.7,419.4 397.7,426.2 C401.7,433.0 404.5,438.4 407.9,444.9 C411.3,451.4 414.5,458.2 418.0,465.3 C421.5,472.4 425.2,480.0 429.0,487.5 C432.8,495.0 439.0,506.7 441.0,510.5" fill="none" stroke="#000" stroke-width="3"/>
<path d="M226,268 L248,291.8 L239,294 L234.2,300 Z" fill="#000"/>

<text x="364.5" y="535.3" font-size="37.5" fill="#0c0c0c" stroke="#0c0c0c" stroke-width="0.3">P<tspan dx="-2">at</tspan><tspan dx="-1">h of </tspan><tspan dx="1">motion</tspan></text>
</svg>
</body></html>
